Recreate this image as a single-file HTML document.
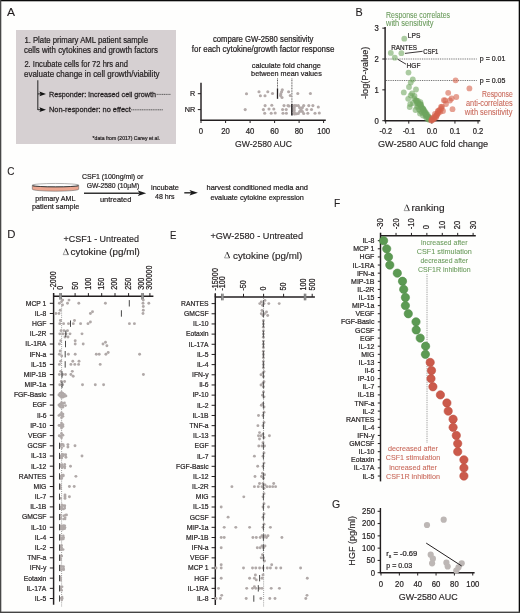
<!DOCTYPE html>
<html><head><meta charset="utf-8"><style>
html,body{margin:0;padding:0;background:#fff;}
svg{display:block;will-change:transform;}
text{font-family:"Liberation Sans", sans-serif;}
</style></head><body>
<svg width="520" height="613" viewBox="0 0 520 613">
<rect x="0" y="0" width="520" height="613" fill="#fefefd"/>
<text x="7.1" y="16.2" font-size="11.6" textLength="8.0" lengthAdjust="spacingAndGlyphs" fill="#231f20" stroke="#231f20" stroke-width="0.12">A</text>
<rect x="16" y="30" width="160" height="114" fill="#d6d0d2"/>
<text x="24.4" y="43.3" font-size="8.5" textLength="123.7" lengthAdjust="spacingAndGlyphs" fill="#231f20" stroke="#231f20" stroke-width="0.22">1. Plate primary AML patient sample</text>
<text x="24.0" y="52.9" font-size="8.5" textLength="133.9" lengthAdjust="spacingAndGlyphs" fill="#231f20" stroke="#231f20" stroke-width="0.22">cells with cytokines and growth factors</text>
<text x="24.4" y="67.2" font-size="8.5" textLength="103.5" lengthAdjust="spacingAndGlyphs" fill="#231f20" stroke="#231f20" stroke-width="0.22">2. Incubate cells for 72 hrs and</text>
<text x="24.0" y="76.5" font-size="8.5" textLength="135.6" lengthAdjust="spacingAndGlyphs" fill="#231f20" stroke="#231f20" stroke-width="0.22">evaluate change in cell growth/viability</text>
<line x1="37.80" y1="80.30" x2="37.80" y2="109.90" stroke="#333" stroke-width="1.1"/>
<line x1="37.80" y1="93.90" x2="41.00" y2="93.90" stroke="#333" stroke-width="1.1"/>
<path d="M39.4 91.5 L46.0 93.9 L39.4 96.3 L40.6 93.9 Z" fill="#111"/>
<line x1="37.80" y1="109.70" x2="41.00" y2="109.70" stroke="#333" stroke-width="1.1"/>
<path d="M39.4 107.3 L46.0 109.7 L39.4 112.1 L40.6 109.7 Z" fill="#111"/>
<text x="49.0" y="96.5" font-size="8.1" textLength="107.0" lengthAdjust="spacingAndGlyphs" fill="#231f20" stroke="#231f20" stroke-width="0.27">Responder: increased cell growth</text>
<text x="49.0" y="111.9" font-size="8.1" textLength="81.8" lengthAdjust="spacingAndGlyphs" fill="#231f20" stroke="#231f20" stroke-width="0.27">Non-responder: no effect</text>
<line x1="156.60" y1="94.40" x2="170.60" y2="94.40" stroke="#444" stroke-width="0.8" stroke-dasharray="1.3 0.5"/>
<line x1="131.00" y1="109.80" x2="162.90" y2="109.80" stroke="#444" stroke-width="0.8" stroke-dasharray="1.3 0.5"/>
<text x="92.6" y="140.3" font-size="5.6" textLength="67.4" lengthAdjust="spacingAndGlyphs" fill="#231f20" stroke="#231f20" stroke-width="0.22">*data from (2017) Carey et al.</text>
<text x="212.9" y="42.0" font-size="8.3" textLength="100.6" lengthAdjust="spacingAndGlyphs" fill="#231f20" stroke="#231f20" stroke-width="0.22">compare GW-2580 sensitivity</text>
<text x="191.8" y="51.6" font-size="8.3" textLength="142.5" lengthAdjust="spacingAndGlyphs" fill="#231f20" stroke="#231f20" stroke-width="0.22">for each cytokine/growth factor response</text>
<text x="251.8" y="67.8" font-size="7.8" textLength="69.1" lengthAdjust="spacingAndGlyphs" fill="#231f20" stroke="#231f20" stroke-width="0.22">calculate fold change</text>
<text x="251.1" y="76.3" font-size="7.8" textLength="70.7" lengthAdjust="spacingAndGlyphs" fill="#231f20" stroke="#231f20" stroke-width="0.22">between mean values</text>
<line x1="201.00" y1="82.70" x2="201.00" y2="120.70" stroke="#231f20" stroke-width="1.45"/>
<line x1="200.50" y1="120.20" x2="325.80" y2="120.20" stroke="#231f20" stroke-width="1.45"/>
<line x1="201.00" y1="120.20" x2="201.00" y2="123.00" stroke="#231f20" stroke-width="1.0"/>
<text x="201.0" y="133.6" font-size="8.3" textLength="4.3" lengthAdjust="spacingAndGlyphs" text-anchor="middle" fill="#231f20" stroke="#231f20" stroke-width="0.22">0</text>
<line x1="225.60" y1="120.20" x2="225.60" y2="123.00" stroke="#231f20" stroke-width="1.0"/>
<text x="225.6" y="133.6" font-size="8.3" textLength="8.6" lengthAdjust="spacingAndGlyphs" text-anchor="middle" fill="#231f20" stroke="#231f20" stroke-width="0.22">20</text>
<line x1="250.10" y1="120.20" x2="250.10" y2="123.00" stroke="#231f20" stroke-width="1.0"/>
<text x="250.1" y="133.6" font-size="8.3" textLength="8.6" lengthAdjust="spacingAndGlyphs" text-anchor="middle" fill="#231f20" stroke="#231f20" stroke-width="0.22">40</text>
<line x1="274.60" y1="120.20" x2="274.60" y2="123.00" stroke="#231f20" stroke-width="1.0"/>
<text x="274.6" y="133.6" font-size="8.3" textLength="8.6" lengthAdjust="spacingAndGlyphs" text-anchor="middle" fill="#231f20" stroke="#231f20" stroke-width="0.22">60</text>
<line x1="299.10" y1="120.20" x2="299.10" y2="123.00" stroke="#231f20" stroke-width="1.0"/>
<text x="299.1" y="133.6" font-size="8.3" textLength="8.6" lengthAdjust="spacingAndGlyphs" text-anchor="middle" fill="#231f20" stroke="#231f20" stroke-width="0.22">80</text>
<line x1="323.60" y1="120.20" x2="323.60" y2="123.00" stroke="#231f20" stroke-width="1.0"/>
<text x="323.6" y="133.6" font-size="8.3" textLength="12.9" lengthAdjust="spacingAndGlyphs" text-anchor="middle" fill="#231f20" stroke="#231f20" stroke-width="0.22">100</text>
<line x1="197.80" y1="93.70" x2="201.00" y2="93.70" stroke="#231f20" stroke-width="1.0"/>
<line x1="197.80" y1="109.60" x2="201.00" y2="109.60" stroke="#231f20" stroke-width="1.0"/>
<text x="195.2" y="96.3" font-size="7.9" textLength="5.2" lengthAdjust="spacingAndGlyphs" text-anchor="end" fill="#231f20" stroke="#231f20" stroke-width="0.22">R</text>
<text x="195.2" y="112.2" font-size="7.9" textLength="10.5" lengthAdjust="spacingAndGlyphs" text-anchor="end" fill="#231f20" stroke="#231f20" stroke-width="0.22">NR</text>
<text x="235.0" y="146.9" font-size="8.9" textLength="57.0" lengthAdjust="spacingAndGlyphs" fill="#231f20" stroke="#231f20" stroke-width="0.14">GW-2580 AUC</text>
<line x1="277.50" y1="78.50" x2="277.50" y2="88.50" stroke="#231f20" stroke-width="0.8" stroke-dasharray="0.9 0.7"/>
<line x1="277.50" y1="88.50" x2="277.50" y2="98.80" stroke="#231f20" stroke-width="1.3"/>
<line x1="291.90" y1="78.50" x2="291.90" y2="104.00" stroke="#231f20" stroke-width="0.8" stroke-dasharray="0.9 0.7"/>
<line x1="291.90" y1="104.00" x2="291.90" y2="115.50" stroke="#231f20" stroke-width="1.6"/>
<circle cx="246.50" cy="93.70" r="1.55" fill="#b3aaa9"/>
<circle cx="259.00" cy="91.80" r="1.55" fill="#b3aaa9"/>
<circle cx="260.40" cy="95.70" r="1.55" fill="#b3aaa9"/>
<circle cx="265.00" cy="95.70" r="1.55" fill="#b3aaa9"/>
<circle cx="267.80" cy="91.80" r="1.55" fill="#b3aaa9"/>
<circle cx="272.50" cy="93.50" r="1.55" fill="#b3aaa9"/>
<circle cx="282.30" cy="89.70" r="1.55" fill="#b3aaa9"/>
<circle cx="281.60" cy="91.80" r="1.55" fill="#b3aaa9"/>
<circle cx="280.80" cy="93.90" r="1.55" fill="#b3aaa9"/>
<circle cx="280.60" cy="95.60" r="1.55" fill="#b3aaa9"/>
<circle cx="282.00" cy="97.50" r="1.55" fill="#b3aaa9"/>
<circle cx="288.60" cy="91.80" r="1.55" fill="#b3aaa9"/>
<circle cx="290.30" cy="95.50" r="1.55" fill="#b3aaa9"/>
<circle cx="297.80" cy="93.50" r="1.55" fill="#b3aaa9"/>
<circle cx="310.40" cy="93.50" r="1.55" fill="#b3aaa9"/>
<circle cx="245.20" cy="109.60" r="1.55" fill="#b3aaa9"/>
<circle cx="263.40" cy="109.60" r="1.55" fill="#b3aaa9"/>
<circle cx="265.10" cy="105.60" r="1.55" fill="#b3aaa9"/>
<circle cx="264.70" cy="113.20" r="1.55" fill="#b3aaa9"/>
<circle cx="269.00" cy="109.00" r="1.55" fill="#b3aaa9"/>
<circle cx="271.80" cy="105.20" r="1.55" fill="#b3aaa9"/>
<circle cx="273.80" cy="109.00" r="1.55" fill="#b3aaa9"/>
<circle cx="271.20" cy="113.20" r="1.55" fill="#b3aaa9"/>
<circle cx="275.20" cy="113.00" r="1.55" fill="#b3aaa9"/>
<circle cx="284.00" cy="105.60" r="1.55" fill="#b3aaa9"/>
<circle cx="282.60" cy="109.50" r="1.55" fill="#b3aaa9"/>
<circle cx="283.00" cy="113.20" r="1.55" fill="#b3aaa9"/>
<circle cx="286.20" cy="109.50" r="1.55" fill="#b3aaa9"/>
<circle cx="288.00" cy="105.60" r="1.55" fill="#b3aaa9"/>
<circle cx="286.40" cy="113.20" r="1.55" fill="#b3aaa9"/>
<circle cx="294.30" cy="105.60" r="1.55" fill="#b3aaa9"/>
<circle cx="294.30" cy="107.80" r="1.55" fill="#b3aaa9"/>
<circle cx="294.30" cy="110.00" r="1.55" fill="#b3aaa9"/>
<circle cx="294.30" cy="112.20" r="1.55" fill="#b3aaa9"/>
<circle cx="294.50" cy="114.00" r="1.55" fill="#b3aaa9"/>
<circle cx="296.00" cy="105.50" r="1.55" fill="#b3aaa9"/>
<circle cx="296.50" cy="113.80" r="1.55" fill="#b3aaa9"/>
<circle cx="298.30" cy="105.60" r="1.55" fill="#b3aaa9"/>
<circle cx="299.60" cy="107.60" r="1.55" fill="#b3aaa9"/>
<circle cx="301.00" cy="109.60" r="1.55" fill="#b3aaa9"/>
<circle cx="302.40" cy="111.60" r="1.55" fill="#b3aaa9"/>
<circle cx="303.70" cy="113.50" r="1.55" fill="#b3aaa9"/>
<circle cx="303.70" cy="105.60" r="1.55" fill="#b3aaa9"/>
<circle cx="302.40" cy="107.60" r="1.55" fill="#b3aaa9"/>
<circle cx="299.60" cy="111.60" r="1.55" fill="#b3aaa9"/>
<circle cx="298.30" cy="113.50" r="1.55" fill="#b3aaa9"/>
<circle cx="289.00" cy="106.00" r="1.55" fill="#b3aaa9"/>
<circle cx="306.80" cy="109.50" r="1.55" fill="#b3aaa9"/>
<circle cx="308.80" cy="105.60" r="1.55" fill="#b3aaa9"/>
<circle cx="312.90" cy="105.60" r="1.55" fill="#b3aaa9"/>
<circle cx="311.50" cy="109.50" r="1.55" fill="#b3aaa9"/>
<circle cx="307.80" cy="113.20" r="1.55" fill="#b3aaa9"/>
<circle cx="315.00" cy="113.20" r="1.55" fill="#b3aaa9"/>
<circle cx="318.30" cy="107.00" r="1.55" fill="#b3aaa9"/>
<circle cx="319.30" cy="113.00" r="1.55" fill="#b3aaa9"/>
<text x="355.4" y="15.7" font-size="11.6" textLength="7.2" lengthAdjust="spacingAndGlyphs" fill="#231f20" stroke="#231f20" stroke-width="0.12">B</text>
<text x="386.0" y="17.6" font-size="8.2" textLength="64.0" lengthAdjust="spacingAndGlyphs" fill="#6a9b5c" stroke="#6a9b5c" stroke-width="0.08">Response correlates</text>
<text x="386.0" y="25.9" font-size="8.2" textLength="47.6" lengthAdjust="spacingAndGlyphs" fill="#6a9b5c" stroke="#6a9b5c" stroke-width="0.08">with sensitivity</text>
<line x1="385.10" y1="27.00" x2="385.10" y2="121.20" stroke="#231f20" stroke-width="1.45"/>
<line x1="384.60" y1="120.80" x2="480.30" y2="120.80" stroke="#231f20" stroke-width="1.45"/>
<line x1="382.30" y1="120.70" x2="385.10" y2="120.70" stroke="#231f20" stroke-width="1.0"/>
<text x="378.8" y="123.5" font-size="8.3" textLength="4.3" lengthAdjust="spacingAndGlyphs" text-anchor="end" fill="#231f20" stroke="#231f20" stroke-width="0.22">0</text>
<line x1="382.30" y1="89.85" x2="385.10" y2="89.85" stroke="#231f20" stroke-width="1.0"/>
<text x="378.8" y="92.6" font-size="8.3" textLength="4.3" lengthAdjust="spacingAndGlyphs" text-anchor="end" fill="#231f20" stroke="#231f20" stroke-width="0.22">1</text>
<line x1="382.30" y1="59.00" x2="385.10" y2="59.00" stroke="#231f20" stroke-width="1.0"/>
<text x="378.8" y="61.8" font-size="8.3" textLength="4.3" lengthAdjust="spacingAndGlyphs" text-anchor="end" fill="#231f20" stroke="#231f20" stroke-width="0.22">2</text>
<line x1="382.30" y1="28.15" x2="385.10" y2="28.15" stroke="#231f20" stroke-width="1.0"/>
<text x="378.8" y="30.9" font-size="8.3" textLength="4.3" lengthAdjust="spacingAndGlyphs" text-anchor="end" fill="#231f20" stroke="#231f20" stroke-width="0.22">3</text>
<line x1="385.70" y1="120.80" x2="385.70" y2="123.60" stroke="#231f20" stroke-width="1.0"/>
<text x="385.7" y="133.6" font-size="8.3" textLength="12.3" lengthAdjust="spacingAndGlyphs" text-anchor="middle" fill="#231f20" stroke="#231f20" stroke-width="0.22">-0.2</text>
<line x1="408.78" y1="120.80" x2="408.78" y2="123.60" stroke="#231f20" stroke-width="1.0"/>
<text x="408.8" y="133.6" font-size="8.3" textLength="12.3" lengthAdjust="spacingAndGlyphs" text-anchor="middle" fill="#231f20" stroke="#231f20" stroke-width="0.22">-0.1</text>
<line x1="431.86" y1="120.80" x2="431.86" y2="123.60" stroke="#231f20" stroke-width="1.0"/>
<text x="431.9" y="133.6" font-size="8.3" textLength="10.5" lengthAdjust="spacingAndGlyphs" text-anchor="middle" fill="#231f20" stroke="#231f20" stroke-width="0.22">0.0</text>
<line x1="454.94" y1="120.80" x2="454.94" y2="123.60" stroke="#231f20" stroke-width="1.0"/>
<text x="454.9" y="133.6" font-size="8.3" textLength="10.5" lengthAdjust="spacingAndGlyphs" text-anchor="middle" fill="#231f20" stroke="#231f20" stroke-width="0.22">0.1</text>
<line x1="478.02" y1="120.80" x2="478.02" y2="123.60" stroke="#231f20" stroke-width="1.0"/>
<text x="478.0" y="133.6" font-size="8.3" textLength="10.5" lengthAdjust="spacingAndGlyphs" text-anchor="middle" fill="#231f20" stroke="#231f20" stroke-width="0.22">0.2</text>
<text x="378.0" y="147.3" font-size="9.2" textLength="110.2" lengthAdjust="spacingAndGlyphs" fill="#231f20" stroke="#231f20" stroke-width="0.14">GW-2580 AUC fold change</text>
<text transform="translate(368.40,72.80) rotate(-90)" x="0" y="0" font-size="9.0" textLength="52.4" lengthAdjust="spacingAndGlyphs" text-anchor="middle" fill="#231f20" stroke="#231f20" stroke-width="0.14">-log(P-value)</text>
<line x1="386.00" y1="59.00" x2="476.70" y2="59.00" stroke="#666" stroke-width="1.1" stroke-dasharray="0.9 0.9"/>
<line x1="386.00" y1="80.50" x2="476.70" y2="80.50" stroke="#666" stroke-width="1.1" stroke-dasharray="0.9 0.9"/>
<text x="479.8" y="61.2" font-size="7.6" textLength="25.5" lengthAdjust="spacingAndGlyphs" fill="#231f20" stroke="#231f20" stroke-width="0.22">p = 0.01</text>
<text x="479.8" y="82.9" font-size="7.6" textLength="25.5" lengthAdjust="spacingAndGlyphs" fill="#231f20" stroke="#231f20" stroke-width="0.22">p = 0.05</text>
<text x="512.7" y="97.2" font-size="8.2" textLength="30.7" lengthAdjust="spacingAndGlyphs" text-anchor="end" fill="#c9685a" stroke="#c9685a" stroke-width="0.08">Response</text>
<text x="512.7" y="106.3" font-size="8.2" textLength="46.7" lengthAdjust="spacingAndGlyphs" text-anchor="end" fill="#c9685a" stroke="#c9685a" stroke-width="0.08">anti-correlates</text>
<text x="512.4" y="115.4" font-size="8.2" textLength="47.6" lengthAdjust="spacingAndGlyphs" text-anchor="end" fill="#c9685a" stroke="#c9685a" stroke-width="0.08">with sensitivity</text>
<text x="407.8" y="38.3" font-size="7.8" textLength="12.5" lengthAdjust="spacingAndGlyphs" fill="#231f20" stroke="#231f20" stroke-width="0.22">LPS</text>
<text x="391.3" y="49.6" font-size="7.8" textLength="25.7" lengthAdjust="spacingAndGlyphs" fill="#231f20" stroke="#231f20" stroke-width="0.22">RANTES</text>
<text x="423.3" y="53.9" font-size="7.8" textLength="15.1" lengthAdjust="spacingAndGlyphs" fill="#231f20" stroke="#231f20" stroke-width="0.22">CSF1</text>
<text x="406.6" y="68.1" font-size="7.8" textLength="13.8" lengthAdjust="spacingAndGlyphs" fill="#231f20" stroke="#231f20" stroke-width="0.22">HGF</text>
<line x1="405.00" y1="53.40" x2="422.60" y2="51.30" stroke="#231f20" stroke-width="0.9"/>
<line x1="397.80" y1="59.30" x2="406.00" y2="64.20" stroke="#231f20" stroke-width="0.9"/>
<circle cx="404.30" cy="38.70" r="2.9" fill="rgba(110,165,94,0.58)"/>
<circle cx="401.40" cy="53.20" r="2.9" fill="rgba(110,165,94,0.58)"/>
<circle cx="390.80" cy="52.90" r="2.9" fill="rgba(110,165,94,0.58)"/>
<circle cx="394.80" cy="57.70" r="2.9" fill="rgba(110,165,94,0.58)"/>
<circle cx="408.50" cy="72.60" r="2.9" fill="rgba(110,165,94,0.58)"/>
<circle cx="412.80" cy="79.50" r="2.9" fill="rgba(110,165,94,0.58)"/>
<circle cx="410.70" cy="82.60" r="2.9" fill="rgba(110,165,94,0.58)"/>
<circle cx="409.00" cy="87.00" r="2.9" fill="rgba(110,165,94,0.58)"/>
<circle cx="416.00" cy="89.50" r="2.9" fill="rgba(110,165,94,0.58)"/>
<circle cx="403.80" cy="92.40" r="2.9" fill="rgba(110,165,94,0.58)"/>
<circle cx="412.10" cy="93.40" r="2.9" fill="rgba(110,165,94,0.58)"/>
<circle cx="410.70" cy="95.30" r="2.9" fill="rgba(110,165,94,0.58)"/>
<circle cx="408.20" cy="98.80" r="2.9" fill="rgba(110,165,94,0.58)"/>
<circle cx="414.10" cy="98.30" r="2.9" fill="rgba(110,165,94,0.58)"/>
<circle cx="420.40" cy="102.20" r="2.9" fill="rgba(110,165,94,0.58)"/>
<circle cx="410.20" cy="104.10" r="2.9" fill="rgba(110,165,94,0.58)"/>
<circle cx="409.70" cy="107.10" r="2.9" fill="rgba(110,165,94,0.58)"/>
<circle cx="417.00" cy="107.10" r="2.9" fill="rgba(110,165,94,0.58)"/>
<circle cx="418.50" cy="104.00" r="2.9" fill="rgba(110,165,94,0.58)"/>
<circle cx="423.40" cy="109.00" r="2.9" fill="rgba(110,165,94,0.58)"/>
<circle cx="420.40" cy="111.00" r="2.9" fill="rgba(110,165,94,0.58)"/>
<circle cx="424.40" cy="113.00" r="2.9" fill="rgba(110,165,94,0.58)"/>
<circle cx="426.30" cy="115.00" r="2.9" fill="rgba(110,165,94,0.58)"/>
<circle cx="428.30" cy="116.90" r="2.9" fill="rgba(110,165,94,0.58)"/>
<circle cx="429.70" cy="118.30" r="2.9" fill="rgba(110,165,94,0.58)"/>
<circle cx="416.00" cy="101.00" r="2.9" fill="rgba(110,165,94,0.58)"/>
<circle cx="418.00" cy="106.00" r="2.9" fill="rgba(110,165,94,0.58)"/>
<circle cx="421.00" cy="104.50" r="2.9" fill="rgba(110,165,94,0.58)"/>
<circle cx="419.00" cy="109.50" r="2.9" fill="rgba(110,165,94,0.58)"/>
<circle cx="422.00" cy="112.50" r="2.9" fill="rgba(110,165,94,0.58)"/>
<circle cx="424.00" cy="111.00" r="2.9" fill="rgba(110,165,94,0.58)"/>
<circle cx="425.50" cy="116.50" r="2.9" fill="rgba(110,165,94,0.58)"/>
<circle cx="427.00" cy="118.50" r="2.9" fill="rgba(110,165,94,0.58)"/>
<circle cx="428.50" cy="119.50" r="2.9" fill="rgba(110,165,94,0.58)"/>
<circle cx="413.00" cy="103.00" r="2.9" fill="rgba(110,165,94,0.58)"/>
<circle cx="415.50" cy="110.00" r="2.9" fill="rgba(110,165,94,0.58)"/>
<circle cx="420.00" cy="113.50" r="2.9" fill="rgba(110,165,94,0.58)"/>
<circle cx="423.00" cy="115.50" r="2.9" fill="rgba(110,165,94,0.58)"/>
<circle cx="426.00" cy="113.00" r="2.9" fill="rgba(110,165,94,0.58)"/>
<circle cx="414.50" cy="96.00" r="2.9" fill="rgba(110,165,94,0.58)"/>
<circle cx="415.98" cy="100.07" r="2.9" fill="rgba(110,165,94,0.58)"/>
<circle cx="416.81" cy="101.01" r="2.9" fill="rgba(110,165,94,0.58)"/>
<circle cx="417.88" cy="101.00" r="2.9" fill="rgba(110,165,94,0.58)"/>
<circle cx="417.22" cy="103.08" r="2.9" fill="rgba(110,165,94,0.58)"/>
<circle cx="418.28" cy="102.97" r="2.9" fill="rgba(110,165,94,0.58)"/>
<circle cx="420.32" cy="104.19" r="2.9" fill="rgba(110,165,94,0.58)"/>
<circle cx="420.56" cy="105.05" r="2.9" fill="rgba(110,165,94,0.58)"/>
<circle cx="420.73" cy="105.38" r="2.9" fill="rgba(110,165,94,0.58)"/>
<circle cx="421.29" cy="107.37" r="2.9" fill="rgba(110,165,94,0.58)"/>
<circle cx="421.63" cy="108.02" r="2.9" fill="rgba(110,165,94,0.58)"/>
<circle cx="422.49" cy="107.78" r="2.9" fill="rgba(110,165,94,0.58)"/>
<circle cx="423.23" cy="109.47" r="2.9" fill="rgba(110,165,94,0.58)"/>
<circle cx="422.89" cy="109.42" r="2.9" fill="rgba(110,165,94,0.58)"/>
<circle cx="424.58" cy="110.98" r="2.9" fill="rgba(110,165,94,0.58)"/>
<circle cx="424.85" cy="112.48" r="2.9" fill="rgba(110,165,94,0.58)"/>
<circle cx="425.41" cy="113.39" r="2.9" fill="rgba(110,165,94,0.58)"/>
<circle cx="425.33" cy="114.05" r="2.9" fill="rgba(110,165,94,0.58)"/>
<circle cx="426.00" cy="115.11" r="2.9" fill="rgba(110,165,94,0.58)"/>
<circle cx="427.43" cy="114.62" r="2.9" fill="rgba(110,165,94,0.58)"/>
<circle cx="426.51" cy="115.66" r="2.9" fill="rgba(110,165,94,0.58)"/>
<circle cx="428.74" cy="116.85" r="2.9" fill="rgba(110,165,94,0.58)"/>
<circle cx="428.62" cy="117.49" r="2.9" fill="rgba(110,165,94,0.58)"/>
<circle cx="428.95" cy="118.47" r="2.9" fill="rgba(110,165,94,0.58)"/>
<circle cx="429.20" cy="119.50" r="2.9" fill="rgba(110,165,94,0.58)"/>
<circle cx="455.60" cy="80.30" r="2.9" fill="rgba(214,98,76,0.6)"/>
<circle cx="469.40" cy="88.40" r="2.9" fill="rgba(214,98,76,0.6)"/>
<circle cx="448.20" cy="92.80" r="2.9" fill="rgba(214,98,76,0.6)"/>
<circle cx="456.30" cy="97.00" r="2.9" fill="rgba(214,98,76,0.6)"/>
<circle cx="451.60" cy="98.50" r="2.9" fill="rgba(214,98,76,0.6)"/>
<circle cx="445.20" cy="100.50" r="2.9" fill="rgba(214,98,76,0.6)"/>
<circle cx="449.90" cy="100.50" r="2.9" fill="rgba(214,98,76,0.6)"/>
<circle cx="452.50" cy="109.20" r="2.9" fill="rgba(214,98,76,0.6)"/>
<circle cx="443.90" cy="100.20" r="2.9" fill="rgba(214,98,76,0.6)"/>
<circle cx="442.00" cy="106.60" r="2.9" fill="rgba(214,98,76,0.6)"/>
<circle cx="441.00" cy="107.00" r="2.9" fill="rgba(214,98,76,0.6)"/>
<circle cx="439.50" cy="110.00" r="2.9" fill="rgba(214,98,76,0.6)"/>
<circle cx="443.00" cy="111.00" r="2.9" fill="rgba(214,98,76,0.6)"/>
<circle cx="438.00" cy="111.00" r="2.9" fill="rgba(214,98,76,0.6)"/>
<circle cx="435.00" cy="114.00" r="2.9" fill="rgba(214,98,76,0.6)"/>
<circle cx="432.20" cy="117.80" r="2.9" fill="rgba(214,98,76,0.6)"/>
<circle cx="431.20" cy="120.30" r="2.9" fill="rgba(214,98,76,0.6)"/>
<circle cx="437.00" cy="115.00" r="2.9" fill="rgba(214,98,76,0.6)"/>
<circle cx="434.00" cy="118.50" r="2.9" fill="rgba(214,98,76,0.6)"/>
<circle cx="436.00" cy="117.50" r="2.9" fill="rgba(214,98,76,0.6)"/>
<circle cx="441.50" cy="108.50" r="2.9" fill="rgba(214,98,76,0.6)"/>
<circle cx="446.00" cy="104.00" r="2.9" fill="rgba(214,98,76,0.6)"/>
<circle cx="431.67" cy="120.50" r="2.9" fill="rgba(214,98,76,0.6)"/>
<circle cx="432.75" cy="119.69" r="2.9" fill="rgba(214,98,76,0.6)"/>
<circle cx="433.99" cy="118.79" r="2.9" fill="rgba(214,98,76,0.6)"/>
<circle cx="434.51" cy="116.46" r="2.9" fill="rgba(214,98,76,0.6)"/>
<circle cx="435.78" cy="116.74" r="2.9" fill="rgba(214,98,76,0.6)"/>
<circle cx="436.75" cy="115.11" r="2.9" fill="rgba(214,98,76,0.6)"/>
<circle cx="437.26" cy="113.54" r="2.9" fill="rgba(214,98,76,0.6)"/>
<circle cx="438.39" cy="113.12" r="2.9" fill="rgba(214,98,76,0.6)"/>
<circle cx="438.18" cy="111.30" r="2.9" fill="rgba(214,98,76,0.6)"/>
<circle cx="440.21" cy="111.78" r="2.9" fill="rgba(214,98,76,0.6)"/>
<text x="7.2" y="175.4" font-size="11.6" textLength="7.2" lengthAdjust="spacingAndGlyphs" fill="#231f20" stroke="#231f20" stroke-width="0.12">C</text>
<path d="M32.3 185.3 L32.3 189.2 A23.2 2.0 0 0 0 78.7 189.2 L78.7 185.3 Z" fill="#eba690" stroke="#555" stroke-width="0.5"/>
<ellipse cx="55.5" cy="185.2" rx="23.2" ry="1.75" fill="#fdfdfd" stroke="#666" stroke-width="0.5"/>
<path d="M32.6 185.8 A23.2 1.2 0 0 0 78.4 185.8" fill="none" stroke="#222" stroke-width="0.8"/>
<text x="35.2" y="200.8" font-size="7.9" textLength="40.3" lengthAdjust="spacingAndGlyphs" fill="#231f20" stroke="#231f20" stroke-width="0.22">primary AML</text>
<text x="32.0" y="208.9" font-size="7.9" textLength="47.3" lengthAdjust="spacingAndGlyphs" fill="#231f20" stroke="#231f20" stroke-width="0.22">patient sample</text>
<text x="82.0" y="179.4" font-size="7.9" textLength="61.3" lengthAdjust="spacingAndGlyphs" fill="#231f20" stroke="#231f20" stroke-width="0.22">CSF1 (100ng/ml) or</text>
<text x="86.7" y="187.5" font-size="7.9" textLength="52.5" lengthAdjust="spacingAndGlyphs" fill="#231f20" stroke="#231f20" stroke-width="0.22">GW-2580 (10µM)</text>
<text x="99.9" y="202.3" font-size="7.9" textLength="31.5" lengthAdjust="spacingAndGlyphs" fill="#231f20" stroke="#231f20" stroke-width="0.22">untreated</text>
<line x1="84.00" y1="193.20" x2="139.50" y2="193.20" stroke="#333" stroke-width="1.5"/>
<path d="M137.8 190.5 L146.2 193.2 L137.8 195.9 L139.6 193.2 Z" fill="#1a1a1a"/>
<text x="151.0" y="189.8" font-size="7.9" textLength="28.0" lengthAdjust="spacingAndGlyphs" fill="#231f20" stroke="#231f20" stroke-width="0.22">incubate</text>
<text x="155.0" y="199.3" font-size="7.9" textLength="19.6" lengthAdjust="spacingAndGlyphs" fill="#231f20" stroke="#231f20" stroke-width="0.22">48 hrs</text>
<line x1="184.30" y1="192.80" x2="192.50" y2="192.80" stroke="#333" stroke-width="1.5"/>
<path d="M189.5 190.1 L197.9 192.8 L189.5 195.5 L191.3 192.8 Z" fill="#1a1a1a"/>
<text x="206.5" y="190.0" font-size="7.9" textLength="101.5" lengthAdjust="spacingAndGlyphs" fill="#231f20" stroke="#231f20" stroke-width="0.22">harvest conditioned media and</text>
<text x="210.4" y="199.9" font-size="7.9" textLength="93.5" lengthAdjust="spacingAndGlyphs" fill="#231f20" stroke="#231f20" stroke-width="0.22">evaluate cytokine expression</text>
<text x="7.2" y="238.1" font-size="11.6" textLength="8.2" lengthAdjust="spacingAndGlyphs" fill="#231f20" stroke="#231f20" stroke-width="0.12">D</text>
<text x="63.5" y="242.2" font-size="9.3" textLength="75.5" lengthAdjust="spacingAndGlyphs" fill="#231f20" stroke="#231f20" stroke-width="0.14">+CSF1 - Untreated</text>
<path d="M65.80 248.80 L63.20 254.65 L68.40 254.65 Z" fill="none" stroke="#555" stroke-width="0.55" stroke-linejoin="miter"/>
<path d="M65.80 248.80 L68.20 254.65" stroke="#231f20" stroke-width="0.9"/>
<text x="70.6" y="255.2" font-size="9.3" textLength="69.3" lengthAdjust="spacingAndGlyphs" fill="#231f20" stroke="#231f20" stroke-width="0.14">cytokine (pg/ml)</text>
<line x1="61.60" y1="298.00" x2="61.60" y2="607.00" stroke="#555" stroke-width="0.7" stroke-dasharray="0.8 1.3"/>
<line x1="53.60" y1="293.00" x2="53.60" y2="604.80" stroke="#231f20" stroke-width="1.45"/>
<line x1="53.10" y1="296.20" x2="153.40" y2="296.20" stroke="#231f20" stroke-width="1.45"/>
<line x1="53.60" y1="293.10" x2="53.60" y2="296.20" stroke="#231f20" stroke-width="1.0"/>
<line x1="75.10" y1="293.10" x2="75.10" y2="296.20" stroke="#231f20" stroke-width="1.0"/>
<line x1="88.40" y1="293.10" x2="88.40" y2="296.20" stroke="#231f20" stroke-width="1.0"/>
<line x1="101.70" y1="293.10" x2="101.70" y2="296.20" stroke="#231f20" stroke-width="1.0"/>
<line x1="115.00" y1="293.10" x2="115.00" y2="296.20" stroke="#231f20" stroke-width="1.0"/>
<line x1="128.60" y1="293.10" x2="128.60" y2="296.20" stroke="#231f20" stroke-width="1.0"/>
<line x1="149.90" y1="293.10" x2="149.90" y2="296.20" stroke="#231f20" stroke-width="1.0"/>
<rect x="59.40" y="293.00" width="2.3" height="6.6" fill="#bdbdbd"/>
<line x1="59.80" y1="293.00" x2="59.80" y2="299.60" stroke="#555" stroke-width="0.7"/>
<line x1="61.30" y1="293.00" x2="61.30" y2="299.60" stroke="#555" stroke-width="0.7"/>
<rect x="141.40" y="293.00" width="2.3" height="6.6" fill="#bdbdbd"/>
<line x1="141.80" y1="293.00" x2="141.80" y2="299.60" stroke="#555" stroke-width="0.7"/>
<line x1="143.30" y1="293.00" x2="143.30" y2="299.60" stroke="#555" stroke-width="0.7"/>
<text transform="translate(56.00,289.70) rotate(-90)" x="0" y="0" font-size="8.4" textLength="18.5" lengthAdjust="spacingAndGlyphs" text-anchor="start" fill="#231f20" stroke="#231f20" stroke-width="0.22">-2000</text>
<text transform="translate(63.30,289.70) rotate(-90)" x="0" y="0" font-size="8.4" textLength="4.0" lengthAdjust="spacingAndGlyphs" text-anchor="start" fill="#231f20" stroke="#231f20" stroke-width="0.22">0</text>
<text transform="translate(77.50,289.70) rotate(-90)" x="0" y="0" font-size="8.4" textLength="8.0" lengthAdjust="spacingAndGlyphs" text-anchor="start" fill="#231f20" stroke="#231f20" stroke-width="0.22">50</text>
<text transform="translate(90.80,289.70) rotate(-90)" x="0" y="0" font-size="8.4" textLength="12.1" lengthAdjust="spacingAndGlyphs" text-anchor="start" fill="#231f20" stroke="#231f20" stroke-width="0.22">100</text>
<text transform="translate(104.10,289.70) rotate(-90)" x="0" y="0" font-size="8.4" textLength="12.1" lengthAdjust="spacingAndGlyphs" text-anchor="start" fill="#231f20" stroke="#231f20" stroke-width="0.22">150</text>
<text transform="translate(117.40,289.70) rotate(-90)" x="0" y="0" font-size="8.4" textLength="12.1" lengthAdjust="spacingAndGlyphs" text-anchor="start" fill="#231f20" stroke="#231f20" stroke-width="0.22">200</text>
<text transform="translate(131.00,289.70) rotate(-90)" x="0" y="0" font-size="8.4" textLength="12.1" lengthAdjust="spacingAndGlyphs" text-anchor="start" fill="#231f20" stroke="#231f20" stroke-width="0.22">250</text>
<text transform="translate(144.00,289.70) rotate(-90)" x="0" y="0" font-size="8.4" textLength="12.1" lengthAdjust="spacingAndGlyphs" text-anchor="start" fill="#231f20" stroke="#231f20" stroke-width="0.22">300</text>
<text transform="translate(152.00,289.70) rotate(-90)" x="0" y="0" font-size="8.4" textLength="24.1" lengthAdjust="spacingAndGlyphs" text-anchor="start" fill="#231f20" stroke="#231f20" stroke-width="0.22">300000</text>
<line x1="49.80" y1="303.30" x2="53.60" y2="303.30" stroke="#231f20" stroke-width="1.0"/>
<text x="46.4" y="305.6" font-size="7.9" textLength="20.6" lengthAdjust="spacingAndGlyphs" text-anchor="end" fill="#231f20" stroke="#231f20" stroke-width="0.22">MCP 1</text>
<line x1="49.80" y1="313.48" x2="53.60" y2="313.48" stroke="#231f20" stroke-width="1.0"/>
<text x="46.4" y="315.8" font-size="7.9" textLength="11.7" lengthAdjust="spacingAndGlyphs" text-anchor="end" fill="#231f20" stroke="#231f20" stroke-width="0.22">IL-8</text>
<line x1="49.80" y1="323.66" x2="53.60" y2="323.66" stroke="#231f20" stroke-width="1.0"/>
<text x="46.4" y="326.0" font-size="7.9" textLength="14.3" lengthAdjust="spacingAndGlyphs" text-anchor="end" fill="#231f20" stroke="#231f20" stroke-width="0.22">HGF</text>
<line x1="49.80" y1="333.84" x2="53.60" y2="333.84" stroke="#231f20" stroke-width="1.0"/>
<text x="46.4" y="336.1" font-size="7.9" textLength="16.6" lengthAdjust="spacingAndGlyphs" text-anchor="end" fill="#231f20" stroke="#231f20" stroke-width="0.22">IL-2R</text>
<line x1="49.80" y1="344.02" x2="53.60" y2="344.02" stroke="#231f20" stroke-width="1.0"/>
<text x="46.4" y="346.3" font-size="7.9" textLength="21.1" lengthAdjust="spacingAndGlyphs" text-anchor="end" fill="#231f20" stroke="#231f20" stroke-width="0.22">IL-1RA</text>
<line x1="49.80" y1="354.20" x2="53.60" y2="354.20" stroke="#231f20" stroke-width="1.0"/>
<text x="46.4" y="356.5" font-size="7.9" textLength="17.0" lengthAdjust="spacingAndGlyphs" text-anchor="end" fill="#231f20" stroke="#231f20" stroke-width="0.22">IFN-a</text>
<line x1="49.80" y1="364.38" x2="53.60" y2="364.38" stroke="#231f20" stroke-width="1.0"/>
<text x="46.4" y="366.7" font-size="7.9" textLength="15.5" lengthAdjust="spacingAndGlyphs" text-anchor="end" fill="#231f20" stroke="#231f20" stroke-width="0.22">IL-15</text>
<line x1="49.80" y1="374.56" x2="53.60" y2="374.56" stroke="#231f20" stroke-width="1.0"/>
<text x="46.4" y="376.9" font-size="7.9" textLength="22.7" lengthAdjust="spacingAndGlyphs" text-anchor="end" fill="#231f20" stroke="#231f20" stroke-width="0.22">MIP-1B</text>
<line x1="49.80" y1="384.74" x2="53.60" y2="384.74" stroke="#231f20" stroke-width="1.0"/>
<text x="46.4" y="387.0" font-size="7.9" textLength="21.9" lengthAdjust="spacingAndGlyphs" text-anchor="end" fill="#231f20" stroke="#231f20" stroke-width="0.22">MIP-1a</text>
<line x1="49.80" y1="394.92" x2="53.60" y2="394.92" stroke="#231f20" stroke-width="1.0"/>
<text x="46.4" y="397.2" font-size="7.9" textLength="32.5" lengthAdjust="spacingAndGlyphs" text-anchor="end" fill="#231f20" stroke="#231f20" stroke-width="0.22">FGF-Basic</text>
<line x1="49.80" y1="405.10" x2="53.60" y2="405.10" stroke="#231f20" stroke-width="1.0"/>
<text x="46.4" y="407.4" font-size="7.9" textLength="14.0" lengthAdjust="spacingAndGlyphs" text-anchor="end" fill="#231f20" stroke="#231f20" stroke-width="0.22">EGF</text>
<line x1="49.80" y1="415.28" x2="53.60" y2="415.28" stroke="#231f20" stroke-width="1.0"/>
<text x="46.4" y="417.6" font-size="7.9" textLength="9.4" lengthAdjust="spacingAndGlyphs" text-anchor="end" fill="#231f20" stroke="#231f20" stroke-width="0.22">Il-6</text>
<line x1="49.80" y1="425.46" x2="53.60" y2="425.46" stroke="#231f20" stroke-width="1.0"/>
<text x="46.4" y="427.8" font-size="7.9" textLength="16.2" lengthAdjust="spacingAndGlyphs" text-anchor="end" fill="#231f20" stroke="#231f20" stroke-width="0.22">IP-10</text>
<line x1="49.80" y1="435.64" x2="53.60" y2="435.64" stroke="#231f20" stroke-width="1.0"/>
<text x="46.4" y="437.9" font-size="7.9" textLength="18.5" lengthAdjust="spacingAndGlyphs" text-anchor="end" fill="#231f20" stroke="#231f20" stroke-width="0.22">VEGF</text>
<line x1="49.80" y1="445.82" x2="53.60" y2="445.82" stroke="#231f20" stroke-width="1.0"/>
<text x="46.4" y="448.1" font-size="7.9" textLength="18.9" lengthAdjust="spacingAndGlyphs" text-anchor="end" fill="#231f20" stroke="#231f20" stroke-width="0.22">GCSF</text>
<line x1="49.80" y1="456.00" x2="53.60" y2="456.00" stroke="#231f20" stroke-width="1.0"/>
<text x="46.4" y="458.3" font-size="7.9" textLength="15.5" lengthAdjust="spacingAndGlyphs" text-anchor="end" fill="#231f20" stroke="#231f20" stroke-width="0.22">IL-13</text>
<line x1="49.80" y1="466.18" x2="53.60" y2="466.18" stroke="#231f20" stroke-width="1.0"/>
<text x="46.4" y="468.5" font-size="7.9" textLength="15.5" lengthAdjust="spacingAndGlyphs" text-anchor="end" fill="#231f20" stroke="#231f20" stroke-width="0.22">IL-12</text>
<line x1="49.80" y1="476.36" x2="53.60" y2="476.36" stroke="#231f20" stroke-width="1.0"/>
<text x="46.4" y="478.7" font-size="7.9" textLength="27.6" lengthAdjust="spacingAndGlyphs" text-anchor="end" fill="#231f20" stroke="#231f20" stroke-width="0.22">RANTES</text>
<line x1="49.80" y1="486.54" x2="53.60" y2="486.54" stroke="#231f20" stroke-width="1.0"/>
<text x="46.4" y="488.8" font-size="7.9" textLength="12.8" lengthAdjust="spacingAndGlyphs" text-anchor="end" fill="#231f20" stroke="#231f20" stroke-width="0.22">MIG</text>
<line x1="49.80" y1="496.72" x2="53.60" y2="496.72" stroke="#231f20" stroke-width="1.0"/>
<text x="46.4" y="499.0" font-size="7.9" textLength="11.7" lengthAdjust="spacingAndGlyphs" text-anchor="end" fill="#231f20" stroke="#231f20" stroke-width="0.22">IL-7</text>
<line x1="49.80" y1="506.90" x2="53.60" y2="506.90" stroke="#231f20" stroke-width="1.0"/>
<text x="46.4" y="509.2" font-size="7.9" textLength="16.2" lengthAdjust="spacingAndGlyphs" text-anchor="end" fill="#231f20" stroke="#231f20" stroke-width="0.22">IL-1B</text>
<line x1="49.80" y1="517.08" x2="53.60" y2="517.08" stroke="#231f20" stroke-width="1.0"/>
<text x="46.4" y="519.4" font-size="7.9" textLength="24.5" lengthAdjust="spacingAndGlyphs" text-anchor="end" fill="#231f20" stroke="#231f20" stroke-width="0.22">GMCSF</text>
<line x1="49.80" y1="527.26" x2="53.60" y2="527.26" stroke="#231f20" stroke-width="1.0"/>
<text x="46.4" y="529.6" font-size="7.9" textLength="15.5" lengthAdjust="spacingAndGlyphs" text-anchor="end" fill="#231f20" stroke="#231f20" stroke-width="0.22">IL-10</text>
<line x1="49.80" y1="537.44" x2="53.60" y2="537.44" stroke="#231f20" stroke-width="1.0"/>
<text x="46.4" y="539.7" font-size="7.9" textLength="11.7" lengthAdjust="spacingAndGlyphs" text-anchor="end" fill="#231f20" stroke="#231f20" stroke-width="0.22">IL-4</text>
<line x1="49.80" y1="547.62" x2="53.60" y2="547.62" stroke="#231f20" stroke-width="1.0"/>
<text x="46.4" y="549.9" font-size="7.9" textLength="11.7" lengthAdjust="spacingAndGlyphs" text-anchor="end" fill="#231f20" stroke="#231f20" stroke-width="0.22">IL-2</text>
<line x1="49.80" y1="557.80" x2="53.60" y2="557.80" stroke="#231f20" stroke-width="1.0"/>
<text x="46.4" y="560.1" font-size="7.9" textLength="19.2" lengthAdjust="spacingAndGlyphs" text-anchor="end" fill="#231f20" stroke="#231f20" stroke-width="0.22">TNF-a</text>
<line x1="49.80" y1="567.98" x2="53.60" y2="567.98" stroke="#231f20" stroke-width="1.0"/>
<text x="46.4" y="570.3" font-size="7.9" textLength="16.6" lengthAdjust="spacingAndGlyphs" text-anchor="end" fill="#231f20" stroke="#231f20" stroke-width="0.22">IFN-y</text>
<line x1="49.80" y1="578.16" x2="53.60" y2="578.16" stroke="#231f20" stroke-width="1.0"/>
<text x="46.4" y="580.5" font-size="7.9" textLength="22.7" lengthAdjust="spacingAndGlyphs" text-anchor="end" fill="#231f20" stroke="#231f20" stroke-width="0.22">Eotaxin</text>
<line x1="49.80" y1="588.34" x2="53.60" y2="588.34" stroke="#231f20" stroke-width="1.0"/>
<text x="46.4" y="590.6" font-size="7.9" textLength="20.0" lengthAdjust="spacingAndGlyphs" text-anchor="end" fill="#231f20" stroke="#231f20" stroke-width="0.22">IL-17A</text>
<line x1="49.80" y1="598.52" x2="53.60" y2="598.52" stroke="#231f20" stroke-width="1.0"/>
<text x="46.4" y="600.8" font-size="7.9" textLength="11.7" lengthAdjust="spacingAndGlyphs" text-anchor="end" fill="#231f20" stroke="#231f20" stroke-width="0.22">IL-5</text>
<circle cx="59.40" cy="303.30" r="1.45" fill="#b0a9a8"/>
<circle cx="61.50" cy="301.60" r="1.45" fill="#b0a9a8"/>
<circle cx="62.50" cy="305.00" r="1.45" fill="#b0a9a8"/>
<circle cx="62.70" cy="300.10" r="1.45" fill="#b0a9a8"/>
<circle cx="67.50" cy="303.30" r="1.45" fill="#b0a9a8"/>
<circle cx="69.00" cy="300.10" r="1.45" fill="#b0a9a8"/>
<circle cx="78.80" cy="303.30" r="1.45" fill="#b0a9a8"/>
<circle cx="105.40" cy="303.30" r="1.45" fill="#b0a9a8"/>
<circle cx="143.00" cy="303.30" r="1.45" fill="#b0a9a8"/>
<circle cx="143.30" cy="300.10" r="1.45" fill="#b0a9a8"/>
<circle cx="143.30" cy="306.50" r="1.45" fill="#b0a9a8"/>
<circle cx="148.80" cy="303.30" r="1.45" fill="#b0a9a8"/>
<line x1="129.30" y1="300.10" x2="129.30" y2="306.50" stroke="#333" stroke-width="0.9"/>
<circle cx="55.80" cy="313.48" r="1.45" fill="#b0a9a8"/>
<circle cx="59.00" cy="313.48" r="1.45" fill="#b0a9a8"/>
<circle cx="60.20" cy="310.28" r="1.45" fill="#b0a9a8"/>
<circle cx="90.40" cy="313.48" r="1.45" fill="#b0a9a8"/>
<circle cx="92.50" cy="311.78" r="1.45" fill="#b0a9a8"/>
<circle cx="143.00" cy="313.48" r="1.45" fill="#b0a9a8"/>
<circle cx="143.30" cy="310.28" r="1.45" fill="#b0a9a8"/>
<line x1="121.40" y1="310.28" x2="121.40" y2="316.68" stroke="#333" stroke-width="0.9"/>
<circle cx="59.80" cy="323.66" r="1.45" fill="#b0a9a8"/>
<circle cx="60.40" cy="320.46" r="1.45" fill="#b0a9a8"/>
<circle cx="63.60" cy="323.66" r="1.45" fill="#b0a9a8"/>
<circle cx="68.50" cy="323.66" r="1.45" fill="#b0a9a8"/>
<circle cx="73.30" cy="323.66" r="1.45" fill="#b0a9a8"/>
<circle cx="74.50" cy="320.46" r="1.45" fill="#b0a9a8"/>
<circle cx="80.60" cy="323.66" r="1.45" fill="#b0a9a8"/>
<circle cx="88.00" cy="323.66" r="1.45" fill="#b0a9a8"/>
<circle cx="90.40" cy="321.96" r="1.45" fill="#b0a9a8"/>
<circle cx="129.40" cy="323.66" r="1.45" fill="#b0a9a8"/>
<circle cx="134.40" cy="323.66" r="1.45" fill="#b0a9a8"/>
<line x1="70.50" y1="320.46" x2="70.50" y2="326.86" stroke="#333" stroke-width="0.9"/>
<circle cx="59.80" cy="333.84" r="1.45" fill="#b0a9a8"/>
<circle cx="61.00" cy="330.64" r="1.45" fill="#b0a9a8"/>
<circle cx="63.00" cy="333.84" r="1.45" fill="#b0a9a8"/>
<circle cx="64.00" cy="330.64" r="1.45" fill="#b0a9a8"/>
<circle cx="65.00" cy="337.04" r="1.45" fill="#b0a9a8"/>
<circle cx="66.00" cy="333.84" r="1.45" fill="#b0a9a8"/>
<circle cx="67.50" cy="330.64" r="1.45" fill="#b0a9a8"/>
<circle cx="68.00" cy="337.04" r="1.45" fill="#b0a9a8"/>
<circle cx="70.00" cy="333.84" r="1.45" fill="#b0a9a8"/>
<circle cx="82.00" cy="333.84" r="1.45" fill="#b0a9a8"/>
<line x1="65.80" y1="330.64" x2="65.80" y2="337.04" stroke="#333" stroke-width="0.9"/>
<circle cx="59.40" cy="344.02" r="1.45" fill="#b0a9a8"/>
<circle cx="60.70" cy="340.82" r="1.45" fill="#b0a9a8"/>
<circle cx="75.20" cy="344.02" r="1.45" fill="#b0a9a8"/>
<circle cx="75.20" cy="340.82" r="1.45" fill="#b0a9a8"/>
<circle cx="83.20" cy="344.02" r="1.45" fill="#b0a9a8"/>
<circle cx="103.00" cy="344.02" r="1.45" fill="#b0a9a8"/>
<circle cx="105.50" cy="342.32" r="1.45" fill="#b0a9a8"/>
<circle cx="106.90" cy="345.72" r="1.45" fill="#b0a9a8"/>
<line x1="65.50" y1="340.82" x2="65.50" y2="347.22" stroke="#333" stroke-width="0.9"/>
<circle cx="59.40" cy="354.20" r="1.45" fill="#b0a9a8"/>
<circle cx="60.20" cy="351.00" r="1.45" fill="#b0a9a8"/>
<circle cx="61.70" cy="355.90" r="1.45" fill="#b0a9a8"/>
<circle cx="68.40" cy="354.20" r="1.45" fill="#b0a9a8"/>
<circle cx="75.20" cy="354.20" r="1.45" fill="#b0a9a8"/>
<circle cx="96.30" cy="354.20" r="1.45" fill="#b0a9a8"/>
<circle cx="99.20" cy="354.20" r="1.45" fill="#b0a9a8"/>
<circle cx="105.90" cy="354.20" r="1.45" fill="#b0a9a8"/>
<circle cx="108.20" cy="352.50" r="1.45" fill="#b0a9a8"/>
<circle cx="139.60" cy="354.20" r="1.45" fill="#b0a9a8"/>
<line x1="65.20" y1="351.00" x2="65.20" y2="357.40" stroke="#333" stroke-width="0.9"/>
<circle cx="59.40" cy="364.38" r="1.45" fill="#b0a9a8"/>
<circle cx="60.70" cy="361.18" r="1.45" fill="#b0a9a8"/>
<circle cx="70.90" cy="364.38" r="1.45" fill="#b0a9a8"/>
<circle cx="72.80" cy="361.18" r="1.45" fill="#b0a9a8"/>
<circle cx="74.80" cy="364.38" r="1.45" fill="#b0a9a8"/>
<circle cx="78.60" cy="364.38" r="1.45" fill="#b0a9a8"/>
<circle cx="79.00" cy="361.18" r="1.45" fill="#b0a9a8"/>
<circle cx="100.20" cy="364.38" r="1.45" fill="#b0a9a8"/>
<line x1="65.20" y1="361.18" x2="65.20" y2="367.58" stroke="#333" stroke-width="0.9"/>
<circle cx="59.40" cy="374.56" r="1.45" fill="#b0a9a8"/>
<circle cx="60.70" cy="371.36" r="1.45" fill="#b0a9a8"/>
<circle cx="62.70" cy="374.56" r="1.45" fill="#b0a9a8"/>
<circle cx="65.50" cy="374.56" r="1.45" fill="#b0a9a8"/>
<circle cx="70.90" cy="374.56" r="1.45" fill="#b0a9a8"/>
<circle cx="72.30" cy="371.36" r="1.45" fill="#b0a9a8"/>
<circle cx="73.20" cy="376.26" r="1.45" fill="#b0a9a8"/>
<circle cx="143.40" cy="374.56" r="1.45" fill="#b0a9a8"/>
<line x1="62.00" y1="371.36" x2="62.00" y2="377.76" stroke="#333" stroke-width="0.9"/>
<circle cx="59.80" cy="384.74" r="1.45" fill="#b0a9a8"/>
<circle cx="61.30" cy="381.54" r="1.45" fill="#b0a9a8"/>
<circle cx="62.70" cy="384.74" r="1.45" fill="#b0a9a8"/>
<circle cx="64.60" cy="381.54" r="1.45" fill="#b0a9a8"/>
<circle cx="82.50" cy="384.74" r="1.45" fill="#b0a9a8"/>
<circle cx="95.30" cy="384.74" r="1.45" fill="#b0a9a8"/>
<circle cx="103.60" cy="384.74" r="1.45" fill="#b0a9a8"/>
<line x1="62.00" y1="381.54" x2="62.00" y2="387.94" stroke="#333" stroke-width="0.9"/>
<circle cx="61.50" cy="392.32" r="1.35" fill="#b0a9a8"/>
<circle cx="61.50" cy="394.02" r="1.35" fill="#b0a9a8"/>
<circle cx="61.50" cy="395.82" r="1.35" fill="#b0a9a8"/>
<circle cx="61.50" cy="397.52" r="1.35" fill="#b0a9a8"/>
<circle cx="60.00" cy="393.42" r="1.35" fill="#b0a9a8"/>
<circle cx="60.00" cy="396.12" r="1.35" fill="#b0a9a8"/>
<circle cx="63.00" cy="393.42" r="1.35" fill="#b0a9a8"/>
<circle cx="63.00" cy="395.72" r="1.35" fill="#b0a9a8"/>
<circle cx="63.00" cy="397.12" r="1.35" fill="#b0a9a8"/>
<circle cx="58.90" cy="394.92" r="1.35" fill="#b0a9a8"/>
<circle cx="64.50" cy="394.42" r="1.35" fill="#b0a9a8"/>
<circle cx="64.50" cy="396.42" r="1.35" fill="#b0a9a8"/>
<circle cx="66.00" cy="395.92" r="1.35" fill="#b0a9a8"/>
<circle cx="61.50" cy="402.70" r="1.35" fill="#b0a9a8"/>
<circle cx="61.50" cy="405.10" r="1.35" fill="#b0a9a8"/>
<circle cx="61.50" cy="407.50" r="1.35" fill="#b0a9a8"/>
<circle cx="60.00" cy="404.10" r="1.35" fill="#b0a9a8"/>
<circle cx="60.00" cy="406.40" r="1.35" fill="#b0a9a8"/>
<circle cx="63.00" cy="403.30" r="1.35" fill="#b0a9a8"/>
<circle cx="63.00" cy="405.60" r="1.35" fill="#b0a9a8"/>
<circle cx="63.00" cy="407.10" r="1.35" fill="#b0a9a8"/>
<circle cx="58.90" cy="405.10" r="1.35" fill="#b0a9a8"/>
<circle cx="64.50" cy="402.90" r="1.35" fill="#b0a9a8"/>
<circle cx="65.50" cy="405.60" r="1.35" fill="#b0a9a8"/>
<circle cx="61.50" cy="412.88" r="1.35" fill="#b0a9a8"/>
<circle cx="61.50" cy="415.28" r="1.35" fill="#b0a9a8"/>
<circle cx="61.50" cy="417.68" r="1.35" fill="#b0a9a8"/>
<circle cx="60.00" cy="414.48" r="1.35" fill="#b0a9a8"/>
<circle cx="63.00" cy="414.08" r="1.35" fill="#b0a9a8"/>
<circle cx="63.00" cy="416.28" r="1.35" fill="#b0a9a8"/>
<circle cx="58.90" cy="415.48" r="1.35" fill="#b0a9a8"/>
<circle cx="61.50" cy="423.06" r="1.35" fill="#b0a9a8"/>
<circle cx="61.50" cy="424.86" r="1.35" fill="#b0a9a8"/>
<circle cx="61.50" cy="426.66" r="1.35" fill="#b0a9a8"/>
<circle cx="61.50" cy="428.06" r="1.35" fill="#b0a9a8"/>
<circle cx="60.00" cy="425.46" r="1.35" fill="#b0a9a8"/>
<circle cx="63.00" cy="424.66" r="1.35" fill="#b0a9a8"/>
<circle cx="63.00" cy="426.46" r="1.35" fill="#b0a9a8"/>
<circle cx="59.00" cy="425.46" r="1.35" fill="#b0a9a8"/>
<circle cx="61.50" cy="433.44" r="1.35" fill="#b0a9a8"/>
<circle cx="61.50" cy="435.64" r="1.35" fill="#b0a9a8"/>
<circle cx="61.50" cy="437.84" r="1.35" fill="#b0a9a8"/>
<circle cx="60.00" cy="436.14" r="1.35" fill="#b0a9a8"/>
<circle cx="63.00" cy="435.14" r="1.35" fill="#b0a9a8"/>
<circle cx="59.20" cy="435.64" r="1.35" fill="#b0a9a8"/>
<circle cx="60.54" cy="444.46" r="1.25" fill="#b0a9a8"/>
<circle cx="60.50" cy="445.89" r="1.25" fill="#b0a9a8"/>
<circle cx="62.08" cy="444.35" r="1.25" fill="#b0a9a8"/>
<circle cx="61.75" cy="447.77" r="1.25" fill="#b0a9a8"/>
<circle cx="63.23" cy="444.51" r="1.25" fill="#b0a9a8"/>
<circle cx="63.59" cy="445.91" r="1.25" fill="#b0a9a8"/>
<circle cx="67.90" cy="444.62" r="1.45" fill="#b0a9a8"/>
<circle cx="67.90" cy="447.02" r="1.45" fill="#b0a9a8"/>
<circle cx="75.00" cy="445.82" r="1.45" fill="#b0a9a8"/>
<line x1="59.50" y1="442.72" x2="59.50" y2="448.92" stroke="#444" stroke-width="1.0"/>
<circle cx="60.24" cy="455.75" r="1.25" fill="#b0a9a8"/>
<circle cx="60.22" cy="457.67" r="1.25" fill="#b0a9a8"/>
<circle cx="62.21" cy="454.32" r="1.25" fill="#b0a9a8"/>
<circle cx="62.00" cy="456.13" r="1.25" fill="#b0a9a8"/>
<circle cx="61.87" cy="458.10" r="1.25" fill="#b0a9a8"/>
<circle cx="63.70" cy="454.47" r="1.25" fill="#b0a9a8"/>
<circle cx="63.34" cy="455.83" r="1.25" fill="#b0a9a8"/>
<circle cx="65.70" cy="454.80" r="1.45" fill="#b0a9a8"/>
<circle cx="65.90" cy="457.20" r="1.45" fill="#b0a9a8"/>
<circle cx="82.00" cy="456.00" r="1.45" fill="#b0a9a8"/>
<line x1="59.50" y1="452.90" x2="59.50" y2="459.10" stroke="#444" stroke-width="1.0"/>
<circle cx="60.44" cy="464.76" r="1.25" fill="#b0a9a8"/>
<circle cx="60.77" cy="466.46" r="1.25" fill="#b0a9a8"/>
<circle cx="62.25" cy="464.46" r="1.25" fill="#b0a9a8"/>
<circle cx="61.94" cy="465.84" r="1.25" fill="#b0a9a8"/>
<circle cx="62.17" cy="467.70" r="1.25" fill="#b0a9a8"/>
<circle cx="63.78" cy="466.39" r="1.25" fill="#b0a9a8"/>
<circle cx="64.76" cy="464.13" r="1.25" fill="#b0a9a8"/>
<circle cx="64.81" cy="466.23" r="1.25" fill="#b0a9a8"/>
<circle cx="64.81" cy="468.07" r="1.25" fill="#b0a9a8"/>
<circle cx="70.50" cy="466.18" r="1.45" fill="#b0a9a8"/>
<line x1="59.50" y1="463.08" x2="59.50" y2="469.28" stroke="#444" stroke-width="1.0"/>
<circle cx="60.27" cy="476.30" r="1.25" fill="#b0a9a8"/>
<circle cx="60.36" cy="478.44" r="1.25" fill="#b0a9a8"/>
<circle cx="61.88" cy="474.97" r="1.25" fill="#b0a9a8"/>
<circle cx="61.94" cy="476.64" r="1.25" fill="#b0a9a8"/>
<circle cx="61.76" cy="478.45" r="1.25" fill="#b0a9a8"/>
<circle cx="63.35" cy="474.88" r="1.25" fill="#b0a9a8"/>
<circle cx="63.38" cy="476.02" r="1.25" fill="#b0a9a8"/>
<circle cx="75.90" cy="476.36" r="1.45" fill="#b0a9a8"/>
<line x1="59.50" y1="473.26" x2="59.50" y2="479.46" stroke="#444" stroke-width="1.0"/>
<circle cx="60.35" cy="484.92" r="1.25" fill="#b0a9a8"/>
<circle cx="60.47" cy="486.91" r="1.25" fill="#b0a9a8"/>
<circle cx="60.54" cy="488.53" r="1.25" fill="#b0a9a8"/>
<circle cx="69.40" cy="486.54" r="1.45" fill="#b0a9a8"/>
<circle cx="74.20" cy="486.54" r="1.45" fill="#b0a9a8"/>
<line x1="59.50" y1="483.44" x2="59.50" y2="489.64" stroke="#444" stroke-width="1.0"/>
<circle cx="60.69" cy="498.22" r="1.25" fill="#b0a9a8"/>
<circle cx="65.00" cy="495.02" r="1.45" fill="#b0a9a8"/>
<circle cx="65.00" cy="496.72" r="1.45" fill="#b0a9a8"/>
<circle cx="65.00" cy="498.42" r="1.45" fill="#b0a9a8"/>
<circle cx="69.40" cy="496.72" r="1.45" fill="#b0a9a8"/>
<line x1="59.50" y1="493.62" x2="59.50" y2="499.82" stroke="#444" stroke-width="1.0"/>
<circle cx="60.76" cy="506.66" r="1.25" fill="#b0a9a8"/>
<circle cx="60.73" cy="508.68" r="1.25" fill="#b0a9a8"/>
<circle cx="61.76" cy="504.83" r="1.25" fill="#b0a9a8"/>
<circle cx="61.84" cy="507.06" r="1.25" fill="#b0a9a8"/>
<circle cx="62.19" cy="508.68" r="1.25" fill="#b0a9a8"/>
<circle cx="63.31" cy="505.38" r="1.25" fill="#b0a9a8"/>
<circle cx="63.54" cy="508.88" r="1.25" fill="#b0a9a8"/>
<circle cx="64.87" cy="505.53" r="1.25" fill="#b0a9a8"/>
<circle cx="64.71" cy="506.72" r="1.25" fill="#b0a9a8"/>
<circle cx="64.74" cy="508.34" r="1.25" fill="#b0a9a8"/>
<line x1="59.50" y1="503.80" x2="59.50" y2="510.00" stroke="#444" stroke-width="1.0"/>
<circle cx="60.54" cy="515.09" r="1.25" fill="#b0a9a8"/>
<circle cx="60.73" cy="517.46" r="1.25" fill="#b0a9a8"/>
<circle cx="60.61" cy="518.85" r="1.25" fill="#b0a9a8"/>
<circle cx="63.62" cy="515.75" r="1.25" fill="#b0a9a8"/>
<circle cx="63.49" cy="518.96" r="1.25" fill="#b0a9a8"/>
<circle cx="65.30" cy="515.04" r="1.25" fill="#b0a9a8"/>
<circle cx="65.14" cy="517.40" r="1.25" fill="#b0a9a8"/>
<circle cx="65.12" cy="519.01" r="1.25" fill="#b0a9a8"/>
<circle cx="66.50" cy="514.88" r="1.45" fill="#b0a9a8"/>
<line x1="59.50" y1="513.98" x2="59.50" y2="520.18" stroke="#444" stroke-width="1.0"/>
<circle cx="60.41" cy="525.71" r="1.25" fill="#b0a9a8"/>
<circle cx="60.72" cy="527.19" r="1.25" fill="#b0a9a8"/>
<circle cx="60.72" cy="529.02" r="1.25" fill="#b0a9a8"/>
<circle cx="61.93" cy="525.63" r="1.25" fill="#b0a9a8"/>
<circle cx="61.75" cy="527.37" r="1.25" fill="#b0a9a8"/>
<circle cx="62.23" cy="529.14" r="1.25" fill="#b0a9a8"/>
<circle cx="63.64" cy="525.62" r="1.25" fill="#b0a9a8"/>
<circle cx="63.70" cy="526.93" r="1.25" fill="#b0a9a8"/>
<circle cx="63.22" cy="529.04" r="1.25" fill="#b0a9a8"/>
<circle cx="64.84" cy="525.72" r="1.25" fill="#b0a9a8"/>
<circle cx="65.07" cy="527.60" r="1.25" fill="#b0a9a8"/>
<circle cx="64.71" cy="528.80" r="1.25" fill="#b0a9a8"/>
<line x1="59.50" y1="524.16" x2="59.50" y2="530.36" stroke="#444" stroke-width="1.0"/>
<circle cx="60.32" cy="535.48" r="1.25" fill="#b0a9a8"/>
<circle cx="60.60" cy="537.39" r="1.25" fill="#b0a9a8"/>
<circle cx="60.40" cy="539.27" r="1.25" fill="#b0a9a8"/>
<circle cx="62.18" cy="537.77" r="1.25" fill="#b0a9a8"/>
<circle cx="61.93" cy="539.21" r="1.25" fill="#b0a9a8"/>
<circle cx="63.28" cy="535.74" r="1.25" fill="#b0a9a8"/>
<circle cx="63.71" cy="537.61" r="1.25" fill="#b0a9a8"/>
<circle cx="63.37" cy="538.88" r="1.25" fill="#b0a9a8"/>
<line x1="59.50" y1="534.34" x2="59.50" y2="540.54" stroke="#444" stroke-width="1.0"/>
<circle cx="60.37" cy="545.69" r="1.25" fill="#b0a9a8"/>
<circle cx="60.58" cy="547.62" r="1.25" fill="#b0a9a8"/>
<circle cx="60.70" cy="549.71" r="1.25" fill="#b0a9a8"/>
<circle cx="61.74" cy="545.55" r="1.25" fill="#b0a9a8"/>
<circle cx="61.72" cy="547.79" r="1.25" fill="#b0a9a8"/>
<circle cx="61.89" cy="549.55" r="1.25" fill="#b0a9a8"/>
<circle cx="63.21" cy="549.58" r="1.25" fill="#b0a9a8"/>
<line x1="59.50" y1="544.52" x2="59.50" y2="550.72" stroke="#444" stroke-width="1.0"/>
<circle cx="60.28" cy="555.74" r="1.25" fill="#b0a9a8"/>
<circle cx="60.47" cy="557.90" r="1.25" fill="#b0a9a8"/>
<circle cx="60.68" cy="559.87" r="1.25" fill="#b0a9a8"/>
<circle cx="61.82" cy="556.08" r="1.25" fill="#b0a9a8"/>
<line x1="59.50" y1="554.70" x2="59.50" y2="560.90" stroke="#444" stroke-width="1.0"/>
<circle cx="60.63" cy="566.02" r="1.25" fill="#b0a9a8"/>
<circle cx="60.41" cy="568.14" r="1.25" fill="#b0a9a8"/>
<circle cx="60.57" cy="569.88" r="1.25" fill="#b0a9a8"/>
<circle cx="62.18" cy="566.60" r="1.25" fill="#b0a9a8"/>
<circle cx="62.13" cy="569.38" r="1.25" fill="#b0a9a8"/>
<circle cx="63.58" cy="566.61" r="1.25" fill="#b0a9a8"/>
<circle cx="63.54" cy="568.28" r="1.25" fill="#b0a9a8"/>
<circle cx="63.77" cy="569.65" r="1.25" fill="#b0a9a8"/>
<line x1="59.50" y1="564.88" x2="59.50" y2="571.08" stroke="#444" stroke-width="1.0"/>
<circle cx="60.32" cy="576.64" r="1.25" fill="#b0a9a8"/>
<circle cx="60.58" cy="578.33" r="1.25" fill="#b0a9a8"/>
<circle cx="60.74" cy="580.24" r="1.25" fill="#b0a9a8"/>
<line x1="59.50" y1="575.06" x2="59.50" y2="581.26" stroke="#444" stroke-width="1.0"/>
<circle cx="60.52" cy="586.87" r="1.25" fill="#b0a9a8"/>
<circle cx="60.75" cy="588.62" r="1.25" fill="#b0a9a8"/>
<circle cx="60.25" cy="589.99" r="1.25" fill="#b0a9a8"/>
<circle cx="62.16" cy="586.63" r="1.25" fill="#b0a9a8"/>
<circle cx="61.74" cy="590.28" r="1.25" fill="#b0a9a8"/>
<line x1="59.50" y1="585.24" x2="59.50" y2="591.44" stroke="#444" stroke-width="1.0"/>
<circle cx="60.67" cy="598.23" r="1.25" fill="#b0a9a8"/>
<circle cx="62.13" cy="597.09" r="1.25" fill="#b0a9a8"/>
<circle cx="62.27" cy="598.51" r="1.25" fill="#b0a9a8"/>
<circle cx="61.75" cy="600.00" r="1.25" fill="#b0a9a8"/>
<line x1="59.50" y1="595.42" x2="59.50" y2="601.62" stroke="#444" stroke-width="1.0"/>
<text x="170.1" y="238.6" font-size="11.6" textLength="6.4" lengthAdjust="spacingAndGlyphs" fill="#231f20" stroke="#231f20" stroke-width="0.12">E</text>
<text x="210.4" y="238.5" font-size="9.3" textLength="92.6" lengthAdjust="spacingAndGlyphs" fill="#231f20" stroke="#231f20" stroke-width="0.14">+GW-2580 - Untreated</text>
<path d="M227.10 252.10 L224.50 257.95 L229.70 257.95 Z" fill="none" stroke="#555" stroke-width="0.55" stroke-linejoin="miter"/>
<path d="M227.10 252.10 L229.50 257.95" stroke="#231f20" stroke-width="0.9"/>
<text x="233.0" y="258.5" font-size="9.3" textLength="69.3" lengthAdjust="spacingAndGlyphs" fill="#231f20" stroke="#231f20" stroke-width="0.14">cytokine (pg/ml)</text>
<line x1="263.60" y1="298.00" x2="263.60" y2="607.00" stroke="#555" stroke-width="0.7" stroke-dasharray="0.8 1.3"/>
<line x1="215.30" y1="293.30" x2="215.30" y2="605.00" stroke="#231f20" stroke-width="1.45"/>
<line x1="214.80" y1="296.90" x2="314.90" y2="296.90" stroke="#231f20" stroke-width="1.45"/>
<line x1="215.30" y1="293.80" x2="215.30" y2="296.90" stroke="#231f20" stroke-width="1.0"/>
<line x1="243.50" y1="293.80" x2="243.50" y2="296.90" stroke="#231f20" stroke-width="1.0"/>
<line x1="263.60" y1="293.80" x2="263.60" y2="296.90" stroke="#231f20" stroke-width="1.0"/>
<line x1="283.60" y1="293.80" x2="283.60" y2="296.90" stroke="#231f20" stroke-width="1.0"/>
<line x1="312.20" y1="293.80" x2="312.20" y2="296.90" stroke="#231f20" stroke-width="1.0"/>
<rect x="221.20" y="293.70" width="2.3" height="6.6" fill="#bdbdbd"/>
<line x1="221.60" y1="293.70" x2="221.60" y2="300.30" stroke="#555" stroke-width="0.7"/>
<line x1="223.10" y1="293.70" x2="223.10" y2="300.30" stroke="#555" stroke-width="0.7"/>
<rect x="303.90" y="293.70" width="2.3" height="6.6" fill="#bdbdbd"/>
<line x1="304.30" y1="293.70" x2="304.30" y2="300.30" stroke="#555" stroke-width="0.7"/>
<line x1="305.80" y1="293.70" x2="305.80" y2="300.30" stroke="#555" stroke-width="0.7"/>
<text transform="translate(218.00,290.60) rotate(-90)" x="0" y="0" font-size="8.4" textLength="22.5" lengthAdjust="spacingAndGlyphs" text-anchor="start" fill="#231f20" stroke="#231f20" stroke-width="0.22">-15000</text>
<text transform="translate(225.30,290.60) rotate(-90)" x="0" y="0" font-size="8.4" textLength="14.5" lengthAdjust="spacingAndGlyphs" text-anchor="start" fill="#231f20" stroke="#231f20" stroke-width="0.22">-100</text>
<text transform="translate(245.90,290.60) rotate(-90)" x="0" y="0" font-size="8.4" textLength="10.4" lengthAdjust="spacingAndGlyphs" text-anchor="start" fill="#231f20" stroke="#231f20" stroke-width="0.22">-50</text>
<text transform="translate(266.00,290.60) rotate(-90)" x="0" y="0" font-size="8.4" textLength="4.0" lengthAdjust="spacingAndGlyphs" text-anchor="start" fill="#231f20" stroke="#231f20" stroke-width="0.22">0</text>
<text transform="translate(286.00,290.60) rotate(-90)" x="0" y="0" font-size="8.4" textLength="8.0" lengthAdjust="spacingAndGlyphs" text-anchor="start" fill="#231f20" stroke="#231f20" stroke-width="0.22">50</text>
<text transform="translate(306.30,290.60) rotate(-90)" x="0" y="0" font-size="8.4" textLength="12.1" lengthAdjust="spacingAndGlyphs" text-anchor="start" fill="#231f20" stroke="#231f20" stroke-width="0.22">100</text>
<text transform="translate(314.60,290.60) rotate(-90)" x="0" y="0" font-size="8.4" textLength="12.1" lengthAdjust="spacingAndGlyphs" text-anchor="start" fill="#231f20" stroke="#231f20" stroke-width="0.22">500</text>
<line x1="211.60" y1="303.60" x2="215.30" y2="303.60" stroke="#231f20" stroke-width="1.0"/>
<text x="208.6" y="305.9" font-size="7.9" textLength="27.6" lengthAdjust="spacingAndGlyphs" text-anchor="end" fill="#231f20" stroke="#231f20" stroke-width="0.22">RANTES</text>
<line x1="211.60" y1="313.77" x2="215.30" y2="313.77" stroke="#231f20" stroke-width="1.0"/>
<text x="208.6" y="316.1" font-size="7.9" textLength="24.5" lengthAdjust="spacingAndGlyphs" text-anchor="end" fill="#231f20" stroke="#231f20" stroke-width="0.22">GMCSF</text>
<line x1="211.60" y1="323.94" x2="215.30" y2="323.94" stroke="#231f20" stroke-width="1.0"/>
<text x="208.6" y="326.2" font-size="7.9" textLength="15.5" lengthAdjust="spacingAndGlyphs" text-anchor="end" fill="#231f20" stroke="#231f20" stroke-width="0.22">IL-10</text>
<line x1="211.60" y1="334.11" x2="215.30" y2="334.11" stroke="#231f20" stroke-width="1.0"/>
<text x="208.6" y="336.4" font-size="7.9" textLength="22.7" lengthAdjust="spacingAndGlyphs" text-anchor="end" fill="#231f20" stroke="#231f20" stroke-width="0.22">Eotaxin</text>
<line x1="211.60" y1="344.28" x2="215.30" y2="344.28" stroke="#231f20" stroke-width="1.0"/>
<text x="208.6" y="346.6" font-size="7.9" textLength="20.0" lengthAdjust="spacingAndGlyphs" text-anchor="end" fill="#231f20" stroke="#231f20" stroke-width="0.22">IL-17A</text>
<line x1="211.60" y1="354.45" x2="215.30" y2="354.45" stroke="#231f20" stroke-width="1.0"/>
<text x="208.6" y="356.8" font-size="7.9" textLength="11.7" lengthAdjust="spacingAndGlyphs" text-anchor="end" fill="#231f20" stroke="#231f20" stroke-width="0.22">IL-5</text>
<line x1="211.60" y1="364.62" x2="215.30" y2="364.62" stroke="#231f20" stroke-width="1.0"/>
<text x="208.6" y="366.9" font-size="7.9" textLength="11.7" lengthAdjust="spacingAndGlyphs" text-anchor="end" fill="#231f20" stroke="#231f20" stroke-width="0.22">IL-4</text>
<line x1="211.60" y1="374.79" x2="215.30" y2="374.79" stroke="#231f20" stroke-width="1.0"/>
<text x="208.6" y="377.1" font-size="7.9" textLength="16.6" lengthAdjust="spacingAndGlyphs" text-anchor="end" fill="#231f20" stroke="#231f20" stroke-width="0.22">IFN-y</text>
<line x1="211.60" y1="384.96" x2="215.30" y2="384.96" stroke="#231f20" stroke-width="1.0"/>
<text x="208.6" y="387.3" font-size="7.9" textLength="9.4" lengthAdjust="spacingAndGlyphs" text-anchor="end" fill="#231f20" stroke="#231f20" stroke-width="0.22">Il-6</text>
<line x1="211.60" y1="395.13" x2="215.30" y2="395.13" stroke="#231f20" stroke-width="1.0"/>
<text x="208.6" y="397.4" font-size="7.9" textLength="16.2" lengthAdjust="spacingAndGlyphs" text-anchor="end" fill="#231f20" stroke="#231f20" stroke-width="0.22">IP-10</text>
<line x1="211.60" y1="405.30" x2="215.30" y2="405.30" stroke="#231f20" stroke-width="1.0"/>
<text x="208.6" y="407.6" font-size="7.9" textLength="11.7" lengthAdjust="spacingAndGlyphs" text-anchor="end" fill="#231f20" stroke="#231f20" stroke-width="0.22">IL-2</text>
<line x1="211.60" y1="415.47" x2="215.30" y2="415.47" stroke="#231f20" stroke-width="1.0"/>
<text x="208.6" y="417.8" font-size="7.9" textLength="16.2" lengthAdjust="spacingAndGlyphs" text-anchor="end" fill="#231f20" stroke="#231f20" stroke-width="0.22">IL-1B</text>
<line x1="211.60" y1="425.64" x2="215.30" y2="425.64" stroke="#231f20" stroke-width="1.0"/>
<text x="208.6" y="427.9" font-size="7.9" textLength="19.2" lengthAdjust="spacingAndGlyphs" text-anchor="end" fill="#231f20" stroke="#231f20" stroke-width="0.22">TNF-a</text>
<line x1="211.60" y1="435.81" x2="215.30" y2="435.81" stroke="#231f20" stroke-width="1.0"/>
<text x="208.6" y="438.1" font-size="7.9" textLength="15.5" lengthAdjust="spacingAndGlyphs" text-anchor="end" fill="#231f20" stroke="#231f20" stroke-width="0.22">IL-13</text>
<line x1="211.60" y1="445.98" x2="215.30" y2="445.98" stroke="#231f20" stroke-width="1.0"/>
<text x="208.6" y="448.3" font-size="7.9" textLength="14.0" lengthAdjust="spacingAndGlyphs" text-anchor="end" fill="#231f20" stroke="#231f20" stroke-width="0.22">EGF</text>
<line x1="211.60" y1="456.15" x2="215.30" y2="456.15" stroke="#231f20" stroke-width="1.0"/>
<text x="208.6" y="458.5" font-size="7.9" textLength="11.7" lengthAdjust="spacingAndGlyphs" text-anchor="end" fill="#231f20" stroke="#231f20" stroke-width="0.22">IL-7</text>
<line x1="211.60" y1="466.32" x2="215.30" y2="466.32" stroke="#231f20" stroke-width="1.0"/>
<text x="208.6" y="468.6" font-size="7.9" textLength="32.5" lengthAdjust="spacingAndGlyphs" text-anchor="end" fill="#231f20" stroke="#231f20" stroke-width="0.22">FGF-Basic</text>
<line x1="211.60" y1="476.49" x2="215.30" y2="476.49" stroke="#231f20" stroke-width="1.0"/>
<text x="208.6" y="478.8" font-size="7.9" textLength="15.5" lengthAdjust="spacingAndGlyphs" text-anchor="end" fill="#231f20" stroke="#231f20" stroke-width="0.22">IL-12</text>
<line x1="211.60" y1="486.66" x2="215.30" y2="486.66" stroke="#231f20" stroke-width="1.0"/>
<text x="208.6" y="489.0" font-size="7.9" textLength="16.6" lengthAdjust="spacingAndGlyphs" text-anchor="end" fill="#231f20" stroke="#231f20" stroke-width="0.22">IL-2R</text>
<line x1="211.60" y1="496.83" x2="215.30" y2="496.83" stroke="#231f20" stroke-width="1.0"/>
<text x="208.6" y="499.1" font-size="7.9" textLength="12.8" lengthAdjust="spacingAndGlyphs" text-anchor="end" fill="#231f20" stroke="#231f20" stroke-width="0.22">MIG</text>
<line x1="211.60" y1="507.00" x2="215.30" y2="507.00" stroke="#231f20" stroke-width="1.0"/>
<text x="208.6" y="509.3" font-size="7.9" textLength="15.5" lengthAdjust="spacingAndGlyphs" text-anchor="end" fill="#231f20" stroke="#231f20" stroke-width="0.22">IL-15</text>
<line x1="211.60" y1="517.17" x2="215.30" y2="517.17" stroke="#231f20" stroke-width="1.0"/>
<text x="208.6" y="519.5" font-size="7.9" textLength="18.9" lengthAdjust="spacingAndGlyphs" text-anchor="end" fill="#231f20" stroke="#231f20" stroke-width="0.22">GCSF</text>
<line x1="211.60" y1="527.34" x2="215.30" y2="527.34" stroke="#231f20" stroke-width="1.0"/>
<text x="208.6" y="529.6" font-size="7.9" textLength="21.9" lengthAdjust="spacingAndGlyphs" text-anchor="end" fill="#231f20" stroke="#231f20" stroke-width="0.22">MIP-1a</text>
<line x1="211.60" y1="537.51" x2="215.30" y2="537.51" stroke="#231f20" stroke-width="1.0"/>
<text x="208.6" y="539.8" font-size="7.9" textLength="22.7" lengthAdjust="spacingAndGlyphs" text-anchor="end" fill="#231f20" stroke="#231f20" stroke-width="0.22">MIP-1B</text>
<line x1="211.60" y1="547.68" x2="215.30" y2="547.68" stroke="#231f20" stroke-width="1.0"/>
<text x="208.6" y="550.0" font-size="7.9" textLength="17.0" lengthAdjust="spacingAndGlyphs" text-anchor="end" fill="#231f20" stroke="#231f20" stroke-width="0.22">IFN-a</text>
<line x1="211.60" y1="557.85" x2="215.30" y2="557.85" stroke="#231f20" stroke-width="1.0"/>
<text x="208.6" y="560.1" font-size="7.9" textLength="18.5" lengthAdjust="spacingAndGlyphs" text-anchor="end" fill="#231f20" stroke="#231f20" stroke-width="0.22">VEGF</text>
<line x1="211.60" y1="568.02" x2="215.30" y2="568.02" stroke="#231f20" stroke-width="1.0"/>
<text x="208.6" y="570.3" font-size="7.9" textLength="20.6" lengthAdjust="spacingAndGlyphs" text-anchor="end" fill="#231f20" stroke="#231f20" stroke-width="0.22">MCP 1</text>
<line x1="211.60" y1="578.19" x2="215.30" y2="578.19" stroke="#231f20" stroke-width="1.0"/>
<text x="208.6" y="580.5" font-size="7.9" textLength="14.3" lengthAdjust="spacingAndGlyphs" text-anchor="end" fill="#231f20" stroke="#231f20" stroke-width="0.22">HGF</text>
<line x1="211.60" y1="588.36" x2="215.30" y2="588.36" stroke="#231f20" stroke-width="1.0"/>
<text x="208.6" y="590.7" font-size="7.9" textLength="21.1" lengthAdjust="spacingAndGlyphs" text-anchor="end" fill="#231f20" stroke="#231f20" stroke-width="0.22">IL-1RA</text>
<line x1="211.60" y1="598.53" x2="215.30" y2="598.53" stroke="#231f20" stroke-width="1.0"/>
<text x="208.6" y="600.8" font-size="7.9" textLength="11.7" lengthAdjust="spacingAndGlyphs" text-anchor="end" fill="#231f20" stroke="#231f20" stroke-width="0.22">IL-8</text>
<circle cx="259.80" cy="303.60" r="1.45" fill="#b0a9a8"/>
<circle cx="261.30" cy="301.90" r="1.45" fill="#b0a9a8"/>
<circle cx="262.50" cy="305.30" r="1.45" fill="#b0a9a8"/>
<circle cx="264.00" cy="303.60" r="1.45" fill="#b0a9a8"/>
<circle cx="265.00" cy="300.40" r="1.45" fill="#b0a9a8"/>
<circle cx="268.80" cy="303.60" r="1.45" fill="#b0a9a8"/>
<circle cx="279.20" cy="303.60" r="1.45" fill="#b0a9a8"/>
<line x1="263.40" y1="300.20" x2="263.40" y2="307.00" stroke="#444" stroke-width="0.9"/>
<circle cx="261.30" cy="313.77" r="1.45" fill="#b0a9a8"/>
<circle cx="262.00" cy="310.57" r="1.45" fill="#b0a9a8"/>
<circle cx="263.00" cy="315.47" r="1.45" fill="#b0a9a8"/>
<circle cx="264.50" cy="313.77" r="1.45" fill="#b0a9a8"/>
<circle cx="266.50" cy="312.07" r="1.45" fill="#b0a9a8"/>
<circle cx="267.70" cy="315.47" r="1.45" fill="#b0a9a8"/>
<line x1="263.40" y1="310.37" x2="263.40" y2="317.17" stroke="#444" stroke-width="0.9"/>
<circle cx="263.40" cy="323.94" r="1.45" fill="#b0a9a8"/>
<circle cx="263.40" cy="320.74" r="1.45" fill="#b0a9a8"/>
<circle cx="263.40" cy="327.14" r="1.45" fill="#b0a9a8"/>
<line x1="263.40" y1="320.54" x2="263.40" y2="327.34" stroke="#444" stroke-width="0.9"/>
<circle cx="263.40" cy="334.11" r="1.45" fill="#b0a9a8"/>
<circle cx="263.40" cy="330.91" r="1.45" fill="#b0a9a8"/>
<circle cx="263.40" cy="337.31" r="1.45" fill="#b0a9a8"/>
<line x1="263.40" y1="330.71" x2="263.40" y2="337.51" stroke="#444" stroke-width="0.9"/>
<circle cx="263.40" cy="344.28" r="1.45" fill="#b0a9a8"/>
<circle cx="263.40" cy="341.08" r="1.45" fill="#b0a9a8"/>
<circle cx="263.40" cy="347.48" r="1.45" fill="#b0a9a8"/>
<line x1="263.40" y1="340.88" x2="263.40" y2="347.68" stroke="#444" stroke-width="0.9"/>
<circle cx="263.40" cy="354.45" r="1.45" fill="#b0a9a8"/>
<circle cx="263.40" cy="351.25" r="1.45" fill="#b0a9a8"/>
<circle cx="263.40" cy="357.65" r="1.45" fill="#b0a9a8"/>
<line x1="263.40" y1="351.05" x2="263.40" y2="357.85" stroke="#444" stroke-width="0.9"/>
<circle cx="263.40" cy="364.62" r="1.45" fill="#b0a9a8"/>
<circle cx="263.40" cy="361.42" r="1.45" fill="#b0a9a8"/>
<circle cx="263.40" cy="367.82" r="1.45" fill="#b0a9a8"/>
<line x1="263.40" y1="361.22" x2="263.40" y2="368.02" stroke="#444" stroke-width="0.9"/>
<circle cx="261.00" cy="374.79" r="1.45" fill="#b0a9a8"/>
<circle cx="263.00" cy="373.09" r="1.45" fill="#b0a9a8"/>
<circle cx="263.50" cy="376.49" r="1.45" fill="#b0a9a8"/>
<circle cx="264.00" cy="371.59" r="1.45" fill="#b0a9a8"/>
<line x1="263.40" y1="371.39" x2="263.40" y2="378.19" stroke="#444" stroke-width="0.9"/>
<circle cx="261.00" cy="384.96" r="1.45" fill="#b0a9a8"/>
<circle cx="263.00" cy="383.26" r="1.45" fill="#b0a9a8"/>
<circle cx="263.50" cy="386.66" r="1.45" fill="#b0a9a8"/>
<circle cx="264.00" cy="381.76" r="1.45" fill="#b0a9a8"/>
<line x1="263.40" y1="381.56" x2="263.40" y2="388.36" stroke="#444" stroke-width="0.9"/>
<circle cx="262.50" cy="395.13" r="1.45" fill="#b0a9a8"/>
<circle cx="263.50" cy="391.93" r="1.45" fill="#b0a9a8"/>
<circle cx="264.00" cy="396.83" r="1.45" fill="#b0a9a8"/>
<line x1="263.40" y1="391.73" x2="263.40" y2="398.53" stroke="#444" stroke-width="0.9"/>
<circle cx="261.30" cy="405.30" r="1.45" fill="#b0a9a8"/>
<circle cx="263.00" cy="403.60" r="1.45" fill="#b0a9a8"/>
<circle cx="264.00" cy="407.00" r="1.45" fill="#b0a9a8"/>
<line x1="263.40" y1="401.90" x2="263.40" y2="408.70" stroke="#444" stroke-width="0.9"/>
<circle cx="258.50" cy="415.47" r="1.45" fill="#b0a9a8"/>
<circle cx="263.00" cy="415.47" r="1.45" fill="#b0a9a8"/>
<circle cx="264.00" cy="412.27" r="1.45" fill="#b0a9a8"/>
<line x1="263.40" y1="412.07" x2="263.40" y2="418.87" stroke="#444" stroke-width="0.9"/>
<circle cx="257.90" cy="425.64" r="1.45" fill="#b0a9a8"/>
<circle cx="263.00" cy="425.64" r="1.45" fill="#b0a9a8"/>
<circle cx="264.00" cy="422.44" r="1.45" fill="#b0a9a8"/>
<line x1="263.40" y1="422.24" x2="263.40" y2="429.04" stroke="#444" stroke-width="0.9"/>
<circle cx="258.50" cy="435.81" r="1.45" fill="#b0a9a8"/>
<circle cx="259.50" cy="432.61" r="1.45" fill="#b0a9a8"/>
<circle cx="259.50" cy="439.01" r="1.45" fill="#b0a9a8"/>
<circle cx="261.00" cy="435.81" r="1.45" fill="#b0a9a8"/>
<circle cx="263.00" cy="434.11" r="1.45" fill="#b0a9a8"/>
<circle cx="264.00" cy="437.51" r="1.45" fill="#b0a9a8"/>
<circle cx="269.40" cy="435.81" r="1.45" fill="#b0a9a8"/>
<line x1="263.40" y1="432.41" x2="263.40" y2="439.21" stroke="#444" stroke-width="0.9"/>
<circle cx="258.80" cy="445.98" r="1.45" fill="#b0a9a8"/>
<circle cx="262.00" cy="445.98" r="1.45" fill="#b0a9a8"/>
<circle cx="263.00" cy="442.78" r="1.45" fill="#b0a9a8"/>
<circle cx="264.50" cy="445.98" r="1.45" fill="#b0a9a8"/>
<line x1="263.40" y1="442.58" x2="263.40" y2="449.38" stroke="#444" stroke-width="0.9"/>
<circle cx="254.40" cy="456.15" r="1.45" fill="#b0a9a8"/>
<circle cx="263.00" cy="456.15" r="1.45" fill="#b0a9a8"/>
<circle cx="264.00" cy="452.95" r="1.45" fill="#b0a9a8"/>
<line x1="263.40" y1="452.75" x2="263.40" y2="459.55" stroke="#444" stroke-width="0.9"/>
<circle cx="257.70" cy="466.32" r="1.45" fill="#b0a9a8"/>
<circle cx="263.00" cy="466.32" r="1.45" fill="#b0a9a8"/>
<circle cx="264.00" cy="463.12" r="1.45" fill="#b0a9a8"/>
<line x1="263.40" y1="462.92" x2="263.40" y2="469.72" stroke="#444" stroke-width="0.9"/>
<circle cx="255.00" cy="476.49" r="1.45" fill="#b0a9a8"/>
<circle cx="261.50" cy="476.49" r="1.45" fill="#b0a9a8"/>
<circle cx="262.50" cy="473.29" r="1.45" fill="#b0a9a8"/>
<circle cx="263.50" cy="478.19" r="1.45" fill="#b0a9a8"/>
<circle cx="264.50" cy="474.79" r="1.45" fill="#b0a9a8"/>
<line x1="263.40" y1="473.09" x2="263.40" y2="479.89" stroke="#444" stroke-width="0.9"/>
<circle cx="231.90" cy="486.66" r="1.45" fill="#b0a9a8"/>
<circle cx="254.40" cy="486.66" r="1.45" fill="#b0a9a8"/>
<circle cx="258.30" cy="486.66" r="1.45" fill="#b0a9a8"/>
<circle cx="259.50" cy="483.46" r="1.45" fill="#b0a9a8"/>
<circle cx="262.00" cy="486.66" r="1.45" fill="#b0a9a8"/>
<circle cx="263.00" cy="483.46" r="1.45" fill="#b0a9a8"/>
<circle cx="264.00" cy="488.36" r="1.45" fill="#b0a9a8"/>
<circle cx="265.00" cy="484.96" r="1.45" fill="#b0a9a8"/>
<circle cx="267.00" cy="486.66" r="1.45" fill="#b0a9a8"/>
<circle cx="269.80" cy="486.66" r="1.45" fill="#b0a9a8"/>
<circle cx="272.70" cy="486.66" r="1.45" fill="#b0a9a8"/>
<circle cx="273.70" cy="483.46" r="1.45" fill="#b0a9a8"/>
<circle cx="275.60" cy="486.66" r="1.45" fill="#b0a9a8"/>
<line x1="263.40" y1="483.26" x2="263.40" y2="490.06" stroke="#444" stroke-width="0.9"/>
<circle cx="243.80" cy="496.83" r="1.45" fill="#b0a9a8"/>
<circle cx="263.00" cy="496.83" r="1.45" fill="#b0a9a8"/>
<circle cx="264.00" cy="493.63" r="1.45" fill="#b0a9a8"/>
<line x1="263.40" y1="493.43" x2="263.40" y2="500.23" stroke="#444" stroke-width="0.9"/>
<circle cx="221.20" cy="507.00" r="1.45" fill="#b0a9a8"/>
<circle cx="263.00" cy="507.00" r="1.45" fill="#b0a9a8"/>
<circle cx="264.00" cy="503.80" r="1.45" fill="#b0a9a8"/>
<circle cx="268.50" cy="507.00" r="1.45" fill="#b0a9a8"/>
<line x1="263.40" y1="503.60" x2="263.40" y2="510.40" stroke="#444" stroke-width="0.9"/>
<circle cx="228.10" cy="517.17" r="1.45" fill="#b0a9a8"/>
<circle cx="263.00" cy="517.17" r="1.45" fill="#b0a9a8"/>
<circle cx="264.00" cy="513.97" r="1.45" fill="#b0a9a8"/>
<line x1="263.40" y1="513.77" x2="263.40" y2="520.57" stroke="#444" stroke-width="0.9"/>
<circle cx="224.20" cy="527.34" r="1.45" fill="#b0a9a8"/>
<circle cx="235.80" cy="527.34" r="1.45" fill="#b0a9a8"/>
<circle cx="249.60" cy="527.34" r="1.45" fill="#b0a9a8"/>
<circle cx="263.00" cy="527.34" r="1.45" fill="#b0a9a8"/>
<circle cx="264.00" cy="524.14" r="1.45" fill="#b0a9a8"/>
<circle cx="270.40" cy="527.34" r="1.45" fill="#b0a9a8"/>
<line x1="263.40" y1="523.94" x2="263.40" y2="530.74" stroke="#444" stroke-width="0.9"/>
<circle cx="221.20" cy="537.51" r="1.45" fill="#b0a9a8"/>
<circle cx="224.20" cy="537.51" r="1.45" fill="#b0a9a8"/>
<circle cx="252.90" cy="537.51" r="1.45" fill="#b0a9a8"/>
<circle cx="256.30" cy="537.51" r="1.45" fill="#b0a9a8"/>
<circle cx="260.20" cy="537.51" r="1.45" fill="#b0a9a8"/>
<circle cx="262.00" cy="535.81" r="1.45" fill="#b0a9a8"/>
<circle cx="263.50" cy="537.51" r="1.45" fill="#b0a9a8"/>
<circle cx="265.00" cy="535.81" r="1.45" fill="#b0a9a8"/>
<circle cx="266.50" cy="537.51" r="1.45" fill="#b0a9a8"/>
<circle cx="268.00" cy="535.81" r="1.45" fill="#b0a9a8"/>
<circle cx="281.90" cy="537.51" r="1.45" fill="#b0a9a8"/>
<line x1="263.40" y1="534.11" x2="263.40" y2="540.91" stroke="#444" stroke-width="0.9"/>
<circle cx="221.20" cy="547.68" r="1.45" fill="#b0a9a8"/>
<circle cx="257.30" cy="547.68" r="1.45" fill="#b0a9a8"/>
<circle cx="260.20" cy="547.68" r="1.45" fill="#b0a9a8"/>
<circle cx="262.00" cy="545.98" r="1.45" fill="#b0a9a8"/>
<circle cx="263.50" cy="547.68" r="1.45" fill="#b0a9a8"/>
<circle cx="265.00" cy="545.98" r="1.45" fill="#b0a9a8"/>
<line x1="263.40" y1="544.28" x2="263.40" y2="551.08" stroke="#444" stroke-width="0.9"/>
<circle cx="261.20" cy="557.85" r="1.45" fill="#b0a9a8"/>
<circle cx="262.50" cy="554.65" r="1.45" fill="#b0a9a8"/>
<circle cx="263.50" cy="557.85" r="1.45" fill="#b0a9a8"/>
<circle cx="264.50" cy="561.05" r="1.45" fill="#b0a9a8"/>
<line x1="263.40" y1="554.45" x2="263.40" y2="561.25" stroke="#444" stroke-width="0.9"/>
<circle cx="216.00" cy="568.02" r="1.45" fill="#b0a9a8"/>
<circle cx="221.20" cy="568.02" r="1.45" fill="#b0a9a8"/>
<circle cx="221.20" cy="564.82" r="1.45" fill="#b0a9a8"/>
<circle cx="243.50" cy="568.02" r="1.45" fill="#b0a9a8"/>
<circle cx="252.50" cy="568.02" r="1.45" fill="#b0a9a8"/>
<circle cx="255.80" cy="568.02" r="1.45" fill="#b0a9a8"/>
<circle cx="259.60" cy="568.02" r="1.45" fill="#b0a9a8"/>
<circle cx="263.00" cy="568.02" r="1.45" fill="#b0a9a8"/>
<circle cx="267.30" cy="568.02" r="1.45" fill="#b0a9a8"/>
<circle cx="270.40" cy="568.02" r="1.45" fill="#b0a9a8"/>
<circle cx="271.70" cy="564.82" r="1.45" fill="#b0a9a8"/>
<circle cx="276.20" cy="568.02" r="1.45" fill="#b0a9a8"/>
<circle cx="280.80" cy="568.02" r="1.45" fill="#b0a9a8"/>
<circle cx="300.60" cy="568.02" r="1.45" fill="#b0a9a8"/>
<line x1="263.50" y1="564.82" x2="263.50" y2="571.22" stroke="#333" stroke-width="0.9"/>
<circle cx="221.20" cy="578.19" r="1.45" fill="#b0a9a8"/>
<circle cx="249.60" cy="578.19" r="1.45" fill="#b0a9a8"/>
<circle cx="254.40" cy="578.19" r="1.45" fill="#b0a9a8"/>
<circle cx="255.40" cy="574.99" r="1.45" fill="#b0a9a8"/>
<circle cx="256.30" cy="579.89" r="1.45" fill="#b0a9a8"/>
<circle cx="262.00" cy="578.19" r="1.45" fill="#b0a9a8"/>
<circle cx="263.00" cy="574.99" r="1.45" fill="#b0a9a8"/>
<circle cx="307.30" cy="578.19" r="1.45" fill="#b0a9a8"/>
<line x1="259.60" y1="574.99" x2="259.60" y2="581.39" stroke="#333" stroke-width="0.9"/>
<circle cx="218.50" cy="588.36" r="1.45" fill="#b0a9a8"/>
<circle cx="246.70" cy="588.36" r="1.45" fill="#b0a9a8"/>
<circle cx="252.50" cy="588.36" r="1.45" fill="#b0a9a8"/>
<circle cx="254.40" cy="586.66" r="1.45" fill="#b0a9a8"/>
<circle cx="255.80" cy="588.36" r="1.45" fill="#b0a9a8"/>
<circle cx="259.60" cy="588.36" r="1.45" fill="#b0a9a8"/>
<circle cx="262.00" cy="588.36" r="1.45" fill="#b0a9a8"/>
<circle cx="271.20" cy="588.36" r="1.45" fill="#b0a9a8"/>
<circle cx="279.40" cy="588.36" r="1.45" fill="#b0a9a8"/>
<line x1="258.30" y1="585.16" x2="258.30" y2="591.56" stroke="#333" stroke-width="0.9"/>
<circle cx="216.00" cy="598.53" r="1.45" fill="#b0a9a8"/>
<circle cx="220.40" cy="598.53" r="1.45" fill="#b0a9a8"/>
<circle cx="221.70" cy="595.33" r="1.45" fill="#b0a9a8"/>
<circle cx="246.20" cy="598.53" r="1.45" fill="#b0a9a8"/>
<circle cx="260.80" cy="598.53" r="1.45" fill="#b0a9a8"/>
<circle cx="269.80" cy="598.53" r="1.45" fill="#b0a9a8"/>
<circle cx="275.00" cy="598.53" r="1.45" fill="#b0a9a8"/>
<circle cx="305.80" cy="598.53" r="1.45" fill="#b0a9a8"/>
<circle cx="307.00" cy="595.33" r="1.45" fill="#b0a9a8"/>
<line x1="253.80" y1="595.33" x2="253.80" y2="601.73" stroke="#333" stroke-width="0.9"/>
<text x="334.0" y="206.6" font-size="11.6" textLength="6.2" lengthAdjust="spacingAndGlyphs" fill="#231f20" stroke="#231f20" stroke-width="0.12">F</text>
<path d="M406.70 204.80 L404.10 210.65 L409.30 210.65 Z" fill="none" stroke="#555" stroke-width="0.55" stroke-linejoin="miter"/>
<path d="M406.70 204.80 L409.10 210.65" stroke="#231f20" stroke-width="0.9"/>
<text x="411.5" y="211.1" font-size="9.3" textLength="33.0" lengthAdjust="spacingAndGlyphs" fill="#231f20" stroke="#231f20" stroke-width="0.14">ranking</text>
<line x1="380.50" y1="232.80" x2="380.50" y2="481.40" stroke="#231f20" stroke-width="1.45"/>
<line x1="380.00" y1="235.70" x2="475.80" y2="235.70" stroke="#231f20" stroke-width="1.45"/>
<line x1="380.60" y1="232.90" x2="380.60" y2="235.70" stroke="#231f20" stroke-width="1.0"/>
<text transform="translate(383.20,229.20) rotate(-90)" x="0" y="0" font-size="8.4" textLength="10.9" lengthAdjust="spacingAndGlyphs" text-anchor="start" fill="#231f20" stroke="#231f20" stroke-width="0.22">-30</text>
<line x1="396.02" y1="232.90" x2="396.02" y2="235.70" stroke="#231f20" stroke-width="1.0"/>
<text transform="translate(398.62,229.20) rotate(-90)" x="0" y="0" font-size="8.4" textLength="10.9" lengthAdjust="spacingAndGlyphs" text-anchor="start" fill="#231f20" stroke="#231f20" stroke-width="0.22">-20</text>
<line x1="411.44" y1="232.90" x2="411.44" y2="235.70" stroke="#231f20" stroke-width="1.0"/>
<text transform="translate(414.04,229.20) rotate(-90)" x="0" y="0" font-size="8.4" textLength="10.9" lengthAdjust="spacingAndGlyphs" text-anchor="start" fill="#231f20" stroke="#231f20" stroke-width="0.22">-10</text>
<line x1="426.86" y1="232.90" x2="426.86" y2="235.70" stroke="#231f20" stroke-width="1.0"/>
<text transform="translate(429.46,229.20) rotate(-90)" x="0" y="0" font-size="8.4" textLength="4.2" lengthAdjust="spacingAndGlyphs" text-anchor="start" fill="#231f20" stroke="#231f20" stroke-width="0.22">0</text>
<line x1="442.28" y1="232.90" x2="442.28" y2="235.70" stroke="#231f20" stroke-width="1.0"/>
<text transform="translate(444.88,229.20) rotate(-90)" x="0" y="0" font-size="8.4" textLength="8.4" lengthAdjust="spacingAndGlyphs" text-anchor="start" fill="#231f20" stroke="#231f20" stroke-width="0.22">10</text>
<line x1="457.70" y1="232.90" x2="457.70" y2="235.70" stroke="#231f20" stroke-width="1.0"/>
<text transform="translate(460.30,229.20) rotate(-90)" x="0" y="0" font-size="8.4" textLength="8.4" lengthAdjust="spacingAndGlyphs" text-anchor="start" fill="#231f20" stroke="#231f20" stroke-width="0.22">20</text>
<line x1="473.12" y1="232.90" x2="473.12" y2="235.70" stroke="#231f20" stroke-width="1.0"/>
<text transform="translate(475.72,229.20) rotate(-90)" x="0" y="0" font-size="8.4" textLength="8.4" lengthAdjust="spacingAndGlyphs" text-anchor="start" fill="#231f20" stroke="#231f20" stroke-width="0.22">30</text>
<line x1="427.00" y1="274.30" x2="427.00" y2="443.00" stroke="#555" stroke-width="0.7" stroke-dasharray="0.8 1.0"/>
<line x1="377.80" y1="240.70" x2="380.50" y2="240.70" stroke="#231f20" stroke-width="1.0"/>
<text x="374.4" y="243.2" font-size="7.6" textLength="12.0" lengthAdjust="spacingAndGlyphs" text-anchor="end" fill="#231f20" stroke="#231f20" stroke-width="0.22">IL-8</text>
<line x1="377.80" y1="248.81" x2="380.50" y2="248.81" stroke="#231f20" stroke-width="1.0"/>
<text x="374.4" y="251.3" font-size="7.6" textLength="21.2" lengthAdjust="spacingAndGlyphs" text-anchor="end" fill="#231f20" stroke="#231f20" stroke-width="0.22">MCP 1</text>
<line x1="377.80" y1="256.93" x2="380.50" y2="256.93" stroke="#231f20" stroke-width="1.0"/>
<text x="374.4" y="259.4" font-size="7.6" textLength="14.8" lengthAdjust="spacingAndGlyphs" text-anchor="end" fill="#231f20" stroke="#231f20" stroke-width="0.22">HGF</text>
<line x1="377.80" y1="265.04" x2="380.50" y2="265.04" stroke="#231f20" stroke-width="1.0"/>
<text x="374.4" y="267.5" font-size="7.6" textLength="21.8" lengthAdjust="spacingAndGlyphs" text-anchor="end" fill="#231f20" stroke="#231f20" stroke-width="0.22">IL-1RA</text>
<line x1="377.80" y1="273.16" x2="380.50" y2="273.16" stroke="#231f20" stroke-width="1.0"/>
<text x="374.4" y="275.7" font-size="7.6" textLength="17.5" lengthAdjust="spacingAndGlyphs" text-anchor="end" fill="#231f20" stroke="#231f20" stroke-width="0.22">IFN-a</text>
<line x1="377.80" y1="281.27" x2="380.50" y2="281.27" stroke="#231f20" stroke-width="1.0"/>
<text x="374.4" y="283.8" font-size="7.6" textLength="23.3" lengthAdjust="spacingAndGlyphs" text-anchor="end" fill="#231f20" stroke="#231f20" stroke-width="0.22">MIP-1B</text>
<line x1="377.80" y1="289.39" x2="380.50" y2="289.39" stroke="#231f20" stroke-width="1.0"/>
<text x="374.4" y="291.9" font-size="7.6" textLength="17.1" lengthAdjust="spacingAndGlyphs" text-anchor="end" fill="#231f20" stroke="#231f20" stroke-width="0.22">IL-2R</text>
<line x1="377.80" y1="297.50" x2="380.50" y2="297.50" stroke="#231f20" stroke-width="1.0"/>
<text x="374.4" y="300.0" font-size="7.6" textLength="15.9" lengthAdjust="spacingAndGlyphs" text-anchor="end" fill="#231f20" stroke="#231f20" stroke-width="0.22">IL-15</text>
<line x1="377.80" y1="305.62" x2="380.50" y2="305.62" stroke="#231f20" stroke-width="1.0"/>
<text x="374.4" y="308.1" font-size="7.6" textLength="22.5" lengthAdjust="spacingAndGlyphs" text-anchor="end" fill="#231f20" stroke="#231f20" stroke-width="0.22">MIP-1a</text>
<line x1="377.80" y1="313.74" x2="380.50" y2="313.74" stroke="#231f20" stroke-width="1.0"/>
<text x="374.4" y="316.2" font-size="7.6" textLength="19.0" lengthAdjust="spacingAndGlyphs" text-anchor="end" fill="#231f20" stroke="#231f20" stroke-width="0.22">VEGF</text>
<line x1="377.80" y1="321.85" x2="380.50" y2="321.85" stroke="#231f20" stroke-width="1.0"/>
<text x="374.4" y="324.4" font-size="7.6" textLength="33.4" lengthAdjust="spacingAndGlyphs" text-anchor="end" fill="#231f20" stroke="#231f20" stroke-width="0.22">FGF-Basic</text>
<line x1="377.80" y1="329.96" x2="380.50" y2="329.96" stroke="#231f20" stroke-width="1.0"/>
<text x="374.4" y="332.5" font-size="7.6" textLength="19.4" lengthAdjust="spacingAndGlyphs" text-anchor="end" fill="#231f20" stroke="#231f20" stroke-width="0.22">GCSF</text>
<line x1="377.80" y1="338.08" x2="380.50" y2="338.08" stroke="#231f20" stroke-width="1.0"/>
<text x="374.4" y="340.6" font-size="7.6" textLength="14.4" lengthAdjust="spacingAndGlyphs" text-anchor="end" fill="#231f20" stroke="#231f20" stroke-width="0.22">EGF</text>
<line x1="377.80" y1="346.19" x2="380.50" y2="346.19" stroke="#231f20" stroke-width="1.0"/>
<text x="374.4" y="348.7" font-size="7.6" textLength="15.9" lengthAdjust="spacingAndGlyphs" text-anchor="end" fill="#231f20" stroke="#231f20" stroke-width="0.22">IL-12</text>
<line x1="377.80" y1="354.31" x2="380.50" y2="354.31" stroke="#231f20" stroke-width="1.0"/>
<text x="374.4" y="356.8" font-size="7.6" textLength="13.2" lengthAdjust="spacingAndGlyphs" text-anchor="end" fill="#231f20" stroke="#231f20" stroke-width="0.22">MIG</text>
<line x1="377.80" y1="362.43" x2="380.50" y2="362.43" stroke="#231f20" stroke-width="1.0"/>
<text x="374.4" y="364.9" font-size="7.6" textLength="15.9" lengthAdjust="spacingAndGlyphs" text-anchor="end" fill="#231f20" stroke="#231f20" stroke-width="0.22">IL-13</text>
<line x1="377.80" y1="370.54" x2="380.50" y2="370.54" stroke="#231f20" stroke-width="1.0"/>
<text x="374.4" y="373.0" font-size="7.6" textLength="9.7" lengthAdjust="spacingAndGlyphs" text-anchor="end" fill="#231f20" stroke="#231f20" stroke-width="0.22">Il-6</text>
<line x1="377.80" y1="378.65" x2="380.50" y2="378.65" stroke="#231f20" stroke-width="1.0"/>
<text x="374.4" y="381.2" font-size="7.6" textLength="16.7" lengthAdjust="spacingAndGlyphs" text-anchor="end" fill="#231f20" stroke="#231f20" stroke-width="0.22">IP-10</text>
<line x1="377.80" y1="386.77" x2="380.50" y2="386.77" stroke="#231f20" stroke-width="1.0"/>
<text x="374.4" y="389.3" font-size="7.6" textLength="12.0" lengthAdjust="spacingAndGlyphs" text-anchor="end" fill="#231f20" stroke="#231f20" stroke-width="0.22">IL-7</text>
<line x1="377.80" y1="394.88" x2="380.50" y2="394.88" stroke="#231f20" stroke-width="1.0"/>
<text x="374.4" y="397.4" font-size="7.6" textLength="16.7" lengthAdjust="spacingAndGlyphs" text-anchor="end" fill="#231f20" stroke="#231f20" stroke-width="0.22">IL-1B</text>
<line x1="377.80" y1="403.00" x2="380.50" y2="403.00" stroke="#231f20" stroke-width="1.0"/>
<text x="374.4" y="405.5" font-size="7.6" textLength="19.8" lengthAdjust="spacingAndGlyphs" text-anchor="end" fill="#231f20" stroke="#231f20" stroke-width="0.22">TNF-a</text>
<line x1="377.80" y1="411.12" x2="380.50" y2="411.12" stroke="#231f20" stroke-width="1.0"/>
<text x="374.4" y="413.6" font-size="7.6" textLength="12.0" lengthAdjust="spacingAndGlyphs" text-anchor="end" fill="#231f20" stroke="#231f20" stroke-width="0.22">IL-2</text>
<line x1="377.80" y1="419.23" x2="380.50" y2="419.23" stroke="#231f20" stroke-width="1.0"/>
<text x="374.4" y="421.7" font-size="7.6" textLength="28.4" lengthAdjust="spacingAndGlyphs" text-anchor="end" fill="#231f20" stroke="#231f20" stroke-width="0.22">RANTES</text>
<line x1="377.80" y1="427.35" x2="380.50" y2="427.35" stroke="#231f20" stroke-width="1.0"/>
<text x="374.4" y="429.8" font-size="7.6" textLength="12.0" lengthAdjust="spacingAndGlyphs" text-anchor="end" fill="#231f20" stroke="#231f20" stroke-width="0.22">IL-4</text>
<line x1="377.80" y1="435.46" x2="380.50" y2="435.46" stroke="#231f20" stroke-width="1.0"/>
<text x="374.4" y="438.0" font-size="7.6" textLength="17.1" lengthAdjust="spacingAndGlyphs" text-anchor="end" fill="#231f20" stroke="#231f20" stroke-width="0.22">IFN-y</text>
<line x1="377.80" y1="443.57" x2="380.50" y2="443.57" stroke="#231f20" stroke-width="1.0"/>
<text x="374.4" y="446.1" font-size="7.6" textLength="25.2" lengthAdjust="spacingAndGlyphs" text-anchor="end" fill="#231f20" stroke="#231f20" stroke-width="0.22">GMCSF</text>
<line x1="377.80" y1="451.69" x2="380.50" y2="451.69" stroke="#231f20" stroke-width="1.0"/>
<text x="374.4" y="454.2" font-size="7.6" textLength="15.9" lengthAdjust="spacingAndGlyphs" text-anchor="end" fill="#231f20" stroke="#231f20" stroke-width="0.22">IL-10</text>
<line x1="377.80" y1="459.81" x2="380.50" y2="459.81" stroke="#231f20" stroke-width="1.0"/>
<text x="374.4" y="462.3" font-size="7.6" textLength="23.3" lengthAdjust="spacingAndGlyphs" text-anchor="end" fill="#231f20" stroke="#231f20" stroke-width="0.22">Eotaxin</text>
<line x1="377.80" y1="467.92" x2="380.50" y2="467.92" stroke="#231f20" stroke-width="1.0"/>
<text x="374.4" y="470.4" font-size="7.6" textLength="20.6" lengthAdjust="spacingAndGlyphs" text-anchor="end" fill="#231f20" stroke="#231f20" stroke-width="0.22">IL-17A</text>
<line x1="377.80" y1="476.03" x2="380.50" y2="476.03" stroke="#231f20" stroke-width="1.0"/>
<text x="374.4" y="478.5" font-size="7.6" textLength="12.0" lengthAdjust="spacingAndGlyphs" text-anchor="end" fill="#231f20" stroke="#231f20" stroke-width="0.22">IL-5</text>
<circle cx="383.60" cy="240.70" r="4.15" fill="#5c9a53" stroke="#4f8c47" stroke-width="0.6"/>
<circle cx="386.70" cy="248.81" r="4.15" fill="#5c9a53" stroke="#4f8c47" stroke-width="0.6"/>
<circle cx="388.50" cy="256.93" r="4.15" fill="#5c9a53" stroke="#4f8c47" stroke-width="0.6"/>
<circle cx="389.80" cy="265.04" r="4.15" fill="#5c9a53" stroke="#4f8c47" stroke-width="0.6"/>
<circle cx="397.30" cy="273.16" r="4.15" fill="#5c9a53" stroke="#4f8c47" stroke-width="0.6"/>
<circle cx="402.50" cy="281.27" r="4.15" fill="#5c9a53" stroke="#4f8c47" stroke-width="0.6"/>
<circle cx="403.70" cy="289.39" r="4.15" fill="#5c9a53" stroke="#4f8c47" stroke-width="0.6"/>
<circle cx="405.40" cy="297.50" r="4.15" fill="#5c9a53" stroke="#4f8c47" stroke-width="0.6"/>
<circle cx="405.40" cy="305.62" r="4.15" fill="#5c9a53" stroke="#4f8c47" stroke-width="0.6"/>
<circle cx="408.30" cy="313.74" r="4.15" fill="#5c9a53" stroke="#4f8c47" stroke-width="0.6"/>
<circle cx="416.00" cy="321.85" r="4.15" fill="#5c9a53" stroke="#4f8c47" stroke-width="0.6"/>
<circle cx="416.20" cy="329.96" r="4.15" fill="#5c9a53" stroke="#4f8c47" stroke-width="0.6"/>
<circle cx="420.20" cy="338.08" r="4.15" fill="#5c9a53" stroke="#4f8c47" stroke-width="0.6"/>
<circle cx="425.60" cy="346.19" r="4.15" fill="#5c9a53" stroke="#4f8c47" stroke-width="0.6"/>
<circle cx="425.40" cy="354.31" r="4.15" fill="#5c9a53" stroke="#4f8c47" stroke-width="0.6"/>
<circle cx="430.20" cy="362.43" r="4.15" fill="#cb5a4b" stroke="#bd4d3e" stroke-width="0.6"/>
<circle cx="431.50" cy="370.54" r="4.15" fill="#cb5a4b" stroke="#bd4d3e" stroke-width="0.6"/>
<circle cx="431.00" cy="378.65" r="4.15" fill="#cb5a4b" stroke="#bd4d3e" stroke-width="0.6"/>
<circle cx="432.90" cy="386.77" r="4.15" fill="#cb5a4b" stroke="#bd4d3e" stroke-width="0.6"/>
<circle cx="440.40" cy="394.88" r="4.15" fill="#cb5a4b" stroke="#bd4d3e" stroke-width="0.6"/>
<circle cx="446.90" cy="403.00" r="4.15" fill="#cb5a4b" stroke="#bd4d3e" stroke-width="0.6"/>
<circle cx="448.20" cy="411.12" r="4.15" fill="#cb5a4b" stroke="#bd4d3e" stroke-width="0.6"/>
<circle cx="453.10" cy="419.23" r="4.15" fill="#cb5a4b" stroke="#bd4d3e" stroke-width="0.6"/>
<circle cx="453.10" cy="427.35" r="4.15" fill="#cb5a4b" stroke="#bd4d3e" stroke-width="0.6"/>
<circle cx="456.30" cy="435.46" r="4.15" fill="#cb5a4b" stroke="#bd4d3e" stroke-width="0.6"/>
<circle cx="457.70" cy="443.57" r="4.15" fill="#cb5a4b" stroke="#bd4d3e" stroke-width="0.6"/>
<circle cx="457.70" cy="451.69" r="4.15" fill="#cb5a4b" stroke="#bd4d3e" stroke-width="0.6"/>
<circle cx="463.90" cy="459.81" r="4.15" fill="#cb5a4b" stroke="#bd4d3e" stroke-width="0.6"/>
<circle cx="463.90" cy="467.92" r="4.15" fill="#cb5a4b" stroke="#bd4d3e" stroke-width="0.6"/>
<circle cx="463.90" cy="476.03" r="4.15" fill="#cb5a4b" stroke="#bd4d3e" stroke-width="0.6"/>
<text x="444.3" y="244.6" font-size="7.8" textLength="46.5" lengthAdjust="spacingAndGlyphs" text-anchor="middle" fill="#6a9b5c" stroke="#6a9b5c" stroke-width="0.08">increased after</text>
<text x="444.3" y="253.7" font-size="7.8" textLength="55.0" lengthAdjust="spacingAndGlyphs" text-anchor="middle" fill="#6a9b5c" stroke="#6a9b5c" stroke-width="0.08">CSF1 stimulation</text>
<text x="444.3" y="262.8" font-size="7.8" textLength="47.5" lengthAdjust="spacingAndGlyphs" text-anchor="middle" fill="#6a9b5c" stroke="#6a9b5c" stroke-width="0.08">decreased after</text>
<text x="444.3" y="272.0" font-size="7.8" textLength="52.6" lengthAdjust="spacingAndGlyphs" text-anchor="middle" fill="#6a9b5c" stroke="#6a9b5c" stroke-width="0.08">CSF1R inhibition</text>
<text x="413.0" y="450.9" font-size="7.8" textLength="50.0" lengthAdjust="spacingAndGlyphs" text-anchor="middle" fill="#c9685a" stroke="#c9685a" stroke-width="0.08">decreased after</text>
<text x="413.0" y="460.3" font-size="7.8" textLength="54.4" lengthAdjust="spacingAndGlyphs" text-anchor="middle" fill="#c9685a" stroke="#c9685a" stroke-width="0.08">CSF1 stimulation</text>
<text x="413.0" y="469.6" font-size="7.8" textLength="47.7" lengthAdjust="spacingAndGlyphs" text-anchor="middle" fill="#c9685a" stroke="#c9685a" stroke-width="0.08">increased after</text>
<text x="413.0" y="478.6" font-size="7.8" textLength="53.9" lengthAdjust="spacingAndGlyphs" text-anchor="middle" fill="#c9685a" stroke="#c9685a" stroke-width="0.08">CSF1R inhibition</text>
<text x="331.9" y="507.6" font-size="11.6" textLength="8.2" lengthAdjust="spacingAndGlyphs" fill="#231f20" stroke="#231f20" stroke-width="0.12">G</text>
<line x1="380.40" y1="508.00" x2="380.40" y2="573.20" stroke="#231f20" stroke-width="1.45"/>
<line x1="379.90" y1="572.70" x2="474.60" y2="572.70" stroke="#231f20" stroke-width="1.45"/>
<line x1="377.60" y1="572.70" x2="380.40" y2="572.70" stroke="#231f20" stroke-width="1.0"/>
<text x="375.0" y="575.5" font-size="8.3" textLength="4.3" lengthAdjust="spacingAndGlyphs" text-anchor="end" fill="#231f20" stroke="#231f20" stroke-width="0.22">0</text>
<line x1="377.60" y1="560.42" x2="380.40" y2="560.42" stroke="#231f20" stroke-width="1.0"/>
<text x="375.0" y="563.2" font-size="8.3" textLength="8.6" lengthAdjust="spacingAndGlyphs" text-anchor="end" fill="#231f20" stroke="#231f20" stroke-width="0.22">50</text>
<line x1="377.60" y1="548.14" x2="380.40" y2="548.14" stroke="#231f20" stroke-width="1.0"/>
<text x="375.0" y="550.9" font-size="8.3" textLength="12.9" lengthAdjust="spacingAndGlyphs" text-anchor="end" fill="#231f20" stroke="#231f20" stroke-width="0.22">100</text>
<line x1="377.60" y1="535.86" x2="380.40" y2="535.86" stroke="#231f20" stroke-width="1.0"/>
<text x="375.0" y="538.7" font-size="8.3" textLength="12.9" lengthAdjust="spacingAndGlyphs" text-anchor="end" fill="#231f20" stroke="#231f20" stroke-width="0.22">150</text>
<line x1="377.60" y1="523.58" x2="380.40" y2="523.58" stroke="#231f20" stroke-width="1.0"/>
<text x="375.0" y="526.4" font-size="8.3" textLength="12.9" lengthAdjust="spacingAndGlyphs" text-anchor="end" fill="#231f20" stroke="#231f20" stroke-width="0.22">200</text>
<line x1="377.60" y1="511.30" x2="380.40" y2="511.30" stroke="#231f20" stroke-width="1.0"/>
<text x="375.0" y="514.1" font-size="8.3" textLength="12.9" lengthAdjust="spacingAndGlyphs" text-anchor="end" fill="#231f20" stroke="#231f20" stroke-width="0.22">250</text>
<line x1="381.00" y1="572.70" x2="381.00" y2="575.50" stroke="#231f20" stroke-width="1.0"/>
<text x="381.0" y="586.7" font-size="8.3" textLength="4.3" lengthAdjust="spacingAndGlyphs" text-anchor="middle" fill="#231f20" stroke="#231f20" stroke-width="0.22">0</text>
<line x1="399.35" y1="572.70" x2="399.35" y2="575.50" stroke="#231f20" stroke-width="1.0"/>
<text x="399.4" y="586.7" font-size="8.3" textLength="8.6" lengthAdjust="spacingAndGlyphs" text-anchor="middle" fill="#231f20" stroke="#231f20" stroke-width="0.22">20</text>
<line x1="417.70" y1="572.70" x2="417.70" y2="575.50" stroke="#231f20" stroke-width="1.0"/>
<text x="417.7" y="586.7" font-size="8.3" textLength="8.6" lengthAdjust="spacingAndGlyphs" text-anchor="middle" fill="#231f20" stroke="#231f20" stroke-width="0.22">40</text>
<line x1="436.05" y1="572.70" x2="436.05" y2="575.50" stroke="#231f20" stroke-width="1.0"/>
<text x="436.1" y="586.7" font-size="8.3" textLength="8.6" lengthAdjust="spacingAndGlyphs" text-anchor="middle" fill="#231f20" stroke="#231f20" stroke-width="0.22">60</text>
<line x1="454.40" y1="572.70" x2="454.40" y2="575.50" stroke="#231f20" stroke-width="1.0"/>
<text x="454.4" y="586.7" font-size="8.3" textLength="8.6" lengthAdjust="spacingAndGlyphs" text-anchor="middle" fill="#231f20" stroke="#231f20" stroke-width="0.22">80</text>
<line x1="472.75" y1="572.70" x2="472.75" y2="575.50" stroke="#231f20" stroke-width="1.0"/>
<text x="472.8" y="586.7" font-size="8.3" textLength="12.9" lengthAdjust="spacingAndGlyphs" text-anchor="middle" fill="#231f20" stroke="#231f20" stroke-width="0.22">100</text>
<text x="398.7" y="599.7" font-size="9.2" textLength="59.0" lengthAdjust="spacingAndGlyphs" fill="#231f20" stroke="#231f20" stroke-width="0.14">GW-2580 AUC</text>
<text transform="translate(355.20,540.80) rotate(-90)" x="0" y="0" font-size="9.2" textLength="49.7" lengthAdjust="spacingAndGlyphs" text-anchor="middle" fill="#231f20" stroke="#231f20" stroke-width="0.14">HGF (pg/ml)</text>
<circle cx="427.00" cy="525.00" r="3.1" fill="#bdb7b5"/>
<circle cx="443.70" cy="519.70" r="3.1" fill="#bdb7b5"/>
<circle cx="430.70" cy="554.70" r="3.1" fill="#bdb7b5"/>
<circle cx="432.90" cy="558.70" r="3.1" fill="#bdb7b5"/>
<circle cx="432.10" cy="563.30" r="3.1" fill="#bdb7b5"/>
<circle cx="446.40" cy="562.70" r="3.1" fill="#bdb7b5"/>
<circle cx="447.70" cy="566.50" r="3.1" fill="#bdb7b5"/>
<circle cx="461.70" cy="563.30" r="3.1" fill="#bdb7b5"/>
<circle cx="458.50" cy="567.30" r="3.1" fill="#bdb7b5"/>
<circle cx="456.30" cy="570.50" r="3.1" fill="#bdb7b5"/>
<line x1="426.20" y1="543.10" x2="461.70" y2="566.00" stroke="#231f20" stroke-width="1.0"/>
<text x="386.3" y="556.4" font-size="7.6" fill="#231f20" stroke="#231f20" stroke-width="0.22">r<tspan font-size="5" dy="1.5">s</tspan><tspan dy="-1.5"> = -0.69</tspan></text>
<text x="386.3" y="567.8" font-size="7.6" textLength="25.9" lengthAdjust="spacingAndGlyphs" fill="#231f20" stroke="#231f20" stroke-width="0.22">p = 0.03</text>
<rect x="0" y="0" width="520" height="1" fill="#0a0a0a"/>
<rect x="0" y="1" width="520" height="0.6" fill="#0a0a0a" opacity="0.5"/>
<rect x="0" y="0" width="1" height="613" fill="#474747"/>
<rect x="1" y="0" width="0.6" height="613" fill="#474747" opacity="0.5"/>
<rect x="519" y="0" width="1" height="613" fill="#0a0a0a"/>
<rect x="518.4" y="0" width="0.6" height="613" fill="#0a0a0a" opacity="0.5"/>
<rect x="0" y="612" width="520" height="1" fill="#444"/>
<rect x="0" y="611.2" width="520" height="0.8" fill="#444" opacity="0.5"/>
</svg>
</body></html>
